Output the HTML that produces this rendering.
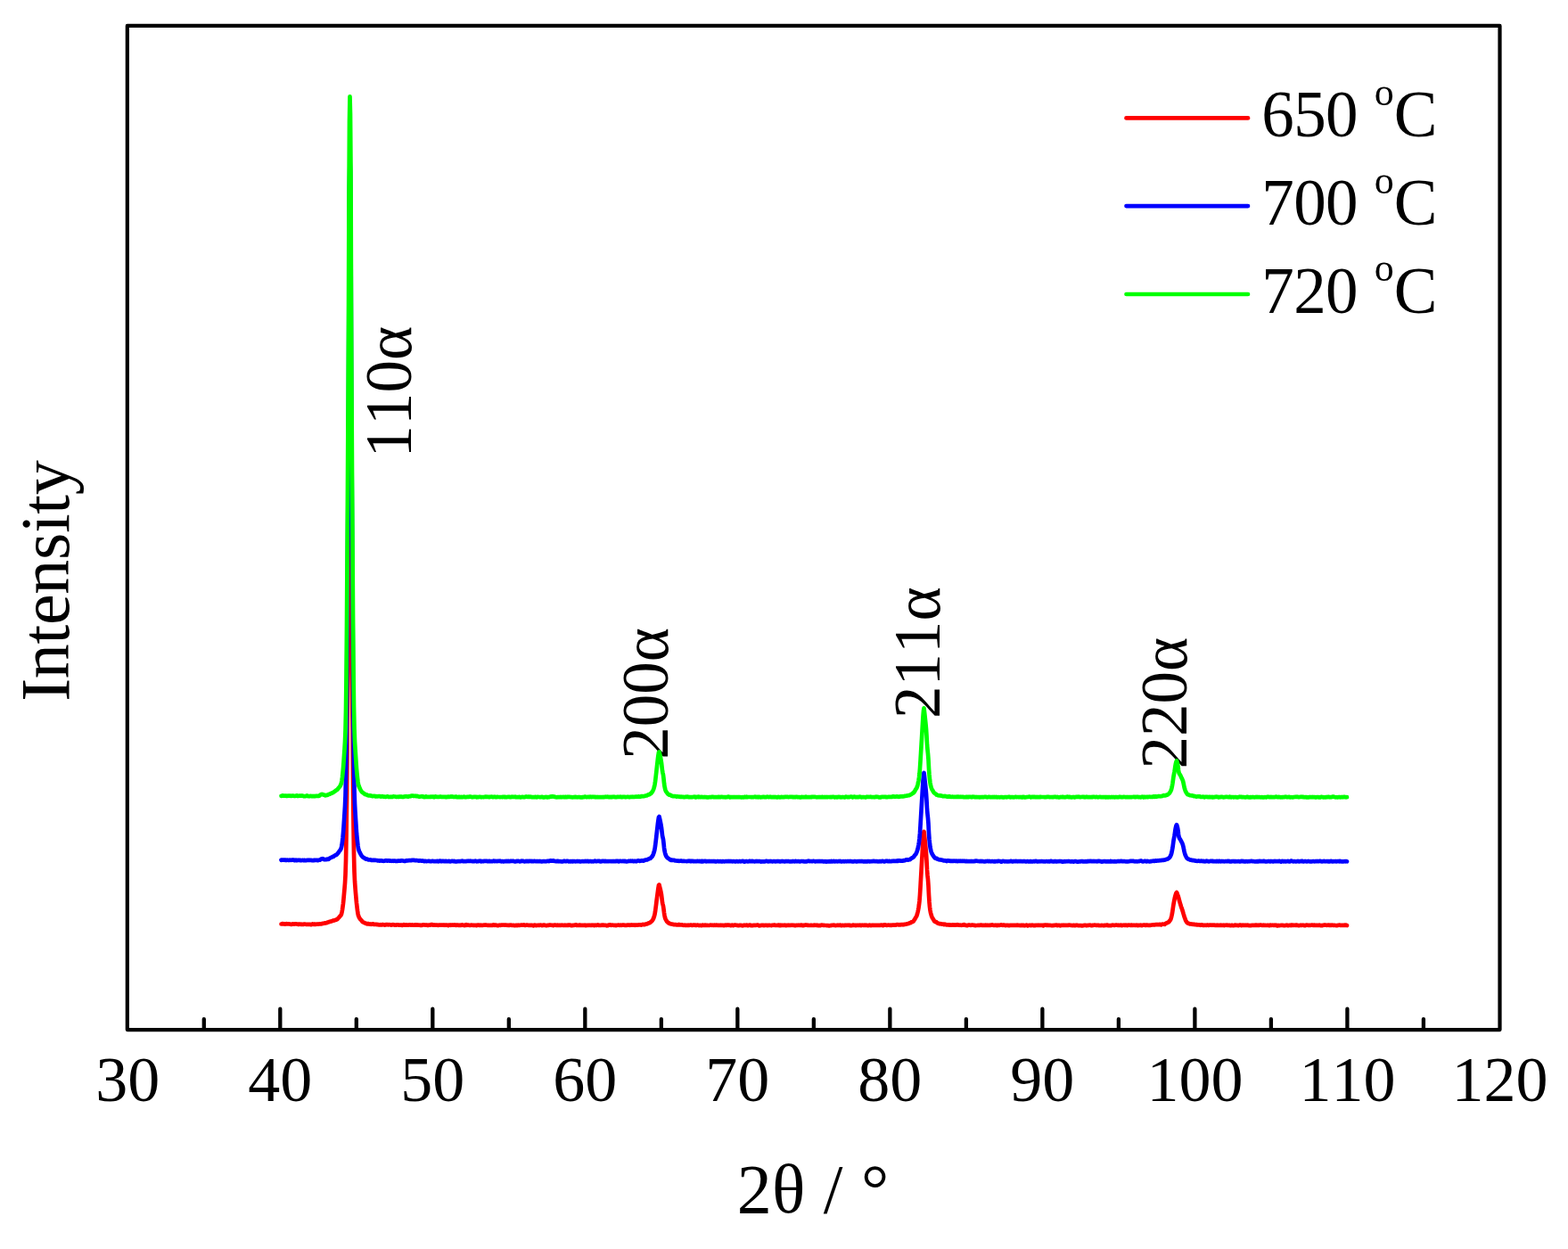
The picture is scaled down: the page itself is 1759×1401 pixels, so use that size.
<!DOCTYPE html>
<html lang="en"><head><meta charset="utf-8"><title>XRD patterns</title>
<style>html,body{margin:0;padding:0;background:#fff;}body{width:1759px;height:1401px;overflow:hidden;}svg{display:block;}text{font-family:"Liberation Serif","DejaVu Serif",serif;fill:#000;font-kerning:none;font-variant-ligatures:none;}</style></head><body>
<svg width="1759" height="1401" viewBox="0 0 1759 1401">
<rect x="0" y="0" width="1759" height="1401" fill="#ffffff"/>
<text transform="translate(461.0,513.5) rotate(-90)" font-size="73">110α</text>
<text transform="translate(749.2,851.7) rotate(-90)" font-size="73">200α</text>
<text transform="translate(1053.6,806.0) rotate(-90)" font-size="73">211α</text>
<text transform="translate(1331.4,862.4) rotate(-90)" font-size="73">220α</text>
<path d="M315.5,1036.5 L316.0,1036.5 L316.5,1036.2 L317.0,1036.4 L317.5,1036.2 L318.0,1036.5 L318.5,1036.3 L319.0,1036.6 L319.5,1036.4 L320.0,1036.6 L320.5,1036.4 L321.0,1036.4 L321.5,1036.2 L322.0,1036.5 L322.5,1036.5 L323.0,1036.5 L323.5,1036.3 L324.0,1036.4 L324.5,1036.5 L325.0,1036.5 L325.5,1036.6 L326.0,1036.6 L326.5,1036.8 L327.0,1036.8 L327.5,1036.6 L328.0,1036.6 L328.5,1036.4 L329.0,1036.5 L329.5,1036.5 L330.0,1036.6 L330.5,1036.5 L331.0,1036.4 L331.5,1036.4 L332.0,1036.4 L332.5,1036.5 L333.0,1036.5 L333.5,1036.5 L334.0,1036.7 L334.5,1036.9 L335.0,1036.9 L335.5,1036.6 L336.0,1036.5 L336.5,1036.7 L337.0,1036.8 L337.5,1036.8 L338.0,1036.6 L338.5,1036.8 L339.0,1036.9 L339.5,1037.0 L340.0,1036.8 L340.5,1036.8 L341.0,1036.6 L341.5,1036.5 L342.0,1036.6 L342.5,1036.7 L343.0,1036.8 L343.5,1036.9 L344.0,1036.9 L344.5,1036.9 L345.0,1036.8 L345.5,1036.9 L346.0,1036.8 L346.5,1036.9 L347.0,1036.8 L347.5,1036.8 L348.0,1036.9 L348.5,1037.0 L349.0,1037.2 L349.5,1037.0 L350.0,1036.7 L350.5,1036.4 L351.0,1036.6 L351.5,1036.8 L352.0,1036.9 L352.5,1036.6 L353.0,1036.5 L353.5,1036.6 L354.0,1036.8 L354.5,1036.8 L355.0,1036.7 L355.5,1036.7 L356.0,1036.6 L356.5,1036.6 L357.0,1036.6 L357.5,1036.6 L358.0,1036.4 L358.5,1036.4 L359.0,1036.4 L359.5,1036.5 L360.0,1036.5 L360.5,1036.4 L361.0,1036.2 L361.5,1036.0 L362.0,1035.9 L362.5,1035.9 L363.0,1035.8 L363.5,1035.7 L364.0,1035.5 L364.5,1035.5 L365.0,1035.3 L365.5,1035.4 L366.0,1035.2 L366.5,1035.2 L367.0,1034.8 L367.5,1034.6 L368.0,1034.5 L368.5,1034.4 L369.0,1034.2 L369.5,1034.0 L370.0,1033.8 L370.5,1033.7 L371.0,1033.6 L371.5,1033.5 L372.0,1033.3 L372.5,1033.0 L373.0,1032.9 L373.5,1032.6 L374.0,1032.6 L374.5,1032.5 L375.0,1032.5 L375.5,1032.1 L376.0,1032.0 L376.5,1032.0 L377.0,1031.7 L377.5,1031.5 L378.0,1031.2 L378.5,1031.0 L379.0,1030.4 L379.5,1029.9 L380.0,1029.4 L380.5,1028.9 L381.0,1028.2 L381.5,1027.7 L382.0,1027.2 L382.5,1026.5 L383.0,1025.4 L383.5,1023.3 L384.0,1020.6 L384.5,1017.1 L385.0,1013.3 L385.5,1008.3 L386.0,1002.5 L386.5,996.8 L387.0,990.6 L387.5,981.6 L388.0,965.7 L388.5,938.3 L389.0,896.2 L389.5,840.0 L390.0,778.2 L390.5,714.6 L391.0,640.4 L391.5,531.8 L392.0,462.4 L392.5,438.5 L393.0,450.0 L393.5,493.3 L394.0,604.0 L394.5,687.4 L395.0,753.8 L395.5,815.4 L396.0,875.7 L396.5,923.9 L397.0,957.2 L397.5,977.4 L398.0,988.5 L398.5,995.6 L399.0,1001.8 L399.5,1007.6 L400.0,1013.0 L400.5,1017.2 L401.0,1021.4 L401.5,1024.7 L402.0,1027.0 L402.5,1028.2 L403.0,1029.4 L403.5,1030.1 L404.0,1030.9 L404.5,1031.4 L405.0,1031.9 L405.5,1032.5 L406.0,1033.1 L406.5,1033.8 L407.0,1034.2 L407.5,1034.4 L408.0,1034.6 L408.5,1034.9 L409.0,1035.2 L409.5,1035.4 L410.0,1035.6 L410.5,1035.8 L411.0,1036.1 L411.5,1036.2 L412.0,1036.4 L412.5,1036.1 L413.0,1036.2 L413.5,1036.2 L414.0,1036.5 L414.5,1036.6 L415.0,1036.6 L415.5,1036.7 L416.0,1036.6 L416.5,1036.8 L417.0,1036.7 L417.5,1036.6 L418.0,1036.3 L418.5,1036.4 L419.0,1036.5 L419.5,1036.9 L420.0,1036.9 L420.5,1036.9 L421.0,1036.9 L421.5,1036.9 L422.0,1036.9 L422.5,1036.9 L423.0,1037.1 L423.5,1037.2 L424.0,1037.2 L424.5,1037.2 L425.0,1037.4 L425.5,1037.4 L426.0,1037.5 L426.5,1037.4 L427.0,1037.2 L427.5,1037.3 L428.0,1037.3 L428.5,1037.4 L429.0,1037.1 L429.5,1037.2 L430.0,1037.2 L430.5,1037.3 L431.0,1037.4 L431.5,1037.6 L432.0,1037.5 L432.5,1037.4 L433.0,1037.1 L433.5,1037.1 L434.0,1037.0 L434.5,1037.2 L435.0,1037.2 L435.5,1037.4 L436.0,1037.3 L436.5,1037.2 L437.0,1037.2 L437.5,1037.3 L438.0,1037.4 L438.5,1037.5 L439.0,1037.6 L439.5,1037.4 L440.0,1037.4 L440.5,1037.2 L441.0,1037.1 L441.5,1037.3 L442.0,1037.4 L442.5,1037.6 L443.0,1037.6 L443.5,1037.6 L444.0,1037.7 L444.5,1037.5 L445.0,1037.4 L445.5,1037.3 L446.0,1037.4 L446.5,1037.4 L447.0,1037.5 L447.5,1037.6 L448.0,1037.6 L448.5,1037.6 L449.0,1037.6 L449.5,1037.5 L450.0,1037.5 L450.5,1037.6 L451.0,1037.8 L451.5,1037.8 L452.0,1037.6 L452.5,1037.4 L453.0,1037.2 L453.5,1037.4 L454.0,1037.5 L454.5,1037.7 L455.0,1037.5 L455.5,1037.5 L456.0,1037.4 L456.5,1037.6 L457.0,1037.6 L457.5,1037.6 L458.0,1037.6 L458.5,1037.6 L459.0,1037.4 L459.5,1037.5 L460.0,1037.4 L460.5,1037.5 L461.0,1037.6 L461.5,1037.5 L462.0,1037.5 L462.5,1037.4 L463.0,1037.6 L463.5,1037.6 L464.0,1037.6 L464.5,1037.6 L465.0,1037.7 L465.5,1037.7 L466.0,1037.5 L466.5,1037.3 L467.0,1037.4 L467.5,1037.6 L468.0,1037.7 L468.5,1037.7 L469.0,1037.6 L469.5,1037.5 L470.0,1037.7 L470.5,1037.7 L471.0,1037.8 L471.5,1037.7 L472.0,1037.9 L472.5,1037.9 L473.0,1038.0 L473.5,1037.7 L474.0,1037.6 L474.5,1037.4 L475.0,1037.4 L475.5,1037.4 L476.0,1037.5 L476.5,1037.5 L477.0,1037.6 L477.5,1037.7 L478.0,1037.7 L478.5,1037.7 L479.0,1037.6 L479.5,1037.8 L480.0,1037.7 L480.5,1037.9 L481.0,1037.7 L481.5,1037.6 L482.0,1037.6 L482.5,1037.7 L483.0,1037.5 L483.5,1037.2 L484.0,1037.0 L484.5,1037.0 L485.0,1037.2 L485.5,1037.5 L486.0,1037.7 L486.5,1037.7 L487.0,1037.6 L487.5,1037.7 L488.0,1037.6 L488.5,1037.6 L489.0,1037.6 L489.5,1037.6 L490.0,1037.7 L490.5,1037.7 L491.0,1037.8 L491.5,1037.8 L492.0,1037.6 L492.5,1037.6 L493.0,1037.5 L493.5,1037.6 L494.0,1037.6 L494.5,1037.5 L495.0,1037.5 L495.5,1037.6 L496.0,1037.5 L496.5,1037.6 L497.0,1037.5 L497.5,1037.7 L498.0,1037.8 L498.5,1037.5 L499.0,1037.5 L499.5,1037.5 L500.0,1037.8 L500.5,1037.7 L501.0,1037.7 L501.5,1037.7 L502.0,1037.9 L502.5,1037.9 L503.0,1038.1 L503.5,1037.9 L504.0,1037.6 L504.5,1037.5 L505.0,1037.7 L505.5,1037.8 L506.0,1037.6 L506.5,1037.5 L507.0,1037.6 L507.5,1037.7 L508.0,1037.7 L508.5,1037.6 L509.0,1037.6 L509.5,1037.5 L510.0,1037.4 L510.5,1037.7 L511.0,1037.7 L511.5,1037.9 L512.0,1037.6 L512.5,1037.7 L513.0,1037.5 L513.5,1037.7 L514.0,1037.6 L514.5,1038.0 L515.0,1037.8 L515.5,1037.8 L516.0,1037.6 L516.5,1037.9 L517.0,1037.8 L517.5,1037.8 L518.0,1037.5 L518.5,1037.4 L519.0,1037.5 L519.5,1037.8 L520.0,1037.8 L520.5,1038.0 L521.0,1038.0 L521.5,1038.1 L522.0,1037.6 L522.5,1037.3 L523.0,1037.2 L523.5,1037.6 L524.0,1037.8 L524.5,1037.7 L525.0,1037.5 L525.5,1037.7 L526.0,1037.8 L526.5,1037.8 L527.0,1037.8 L527.5,1037.8 L528.0,1037.9 L528.5,1037.7 L529.0,1037.7 L529.5,1037.7 L530.0,1037.8 L530.5,1037.9 L531.0,1038.0 L531.5,1037.9 L532.0,1037.9 L532.5,1037.8 L533.0,1037.9 L533.5,1037.9 L534.0,1037.9 L534.5,1038.1 L535.0,1038.0 L535.5,1037.8 L536.0,1037.5 L536.5,1037.6 L537.0,1037.7 L537.5,1037.9 L538.0,1037.7 L538.5,1037.8 L539.0,1037.7 L539.5,1037.9 L540.0,1037.8 L540.5,1037.9 L541.0,1037.9 L541.5,1037.8 L542.0,1037.8 L542.5,1037.7 L543.0,1037.7 L543.5,1037.7 L544.0,1037.7 L544.5,1037.7 L545.0,1037.6 L545.5,1037.6 L546.0,1037.7 L546.5,1037.8 L547.0,1037.9 L547.5,1037.8 L548.0,1037.8 L548.5,1038.0 L549.0,1038.0 L549.5,1038.0 L550.0,1037.9 L550.5,1037.8 L551.0,1037.8 L551.5,1037.9 L552.0,1037.9 L552.5,1037.9 L553.0,1037.5 L553.5,1037.4 L554.0,1037.5 L554.5,1037.6 L555.0,1037.8 L555.5,1037.6 L556.0,1037.6 L556.5,1037.7 L557.0,1037.9 L557.5,1038.0 L558.0,1038.1 L558.5,1038.1 L559.0,1038.1 L559.5,1037.9 L560.0,1037.8 L560.5,1037.7 L561.0,1037.8 L561.5,1037.8 L562.0,1037.6 L562.5,1037.6 L563.0,1037.6 L563.5,1037.5 L564.0,1037.5 L564.5,1037.5 L565.0,1037.5 L565.5,1037.6 L566.0,1037.5 L566.5,1037.7 L567.0,1037.7 L567.5,1037.7 L568.0,1037.7 L568.5,1037.8 L569.0,1037.7 L569.5,1037.8 L570.0,1037.9 L570.5,1038.0 L571.0,1038.0 L571.5,1037.7 L572.0,1037.8 L572.5,1037.7 L573.0,1037.7 L573.5,1037.7 L574.0,1037.8 L574.5,1038.0 L575.0,1038.0 L575.5,1038.0 L576.0,1037.9 L576.5,1037.9 L577.0,1038.1 L577.5,1038.1 L578.0,1038.1 L578.5,1037.9 L579.0,1037.9 L579.5,1037.9 L580.0,1038.1 L580.5,1038.0 L581.0,1037.8 L581.5,1037.7 L582.0,1037.8 L582.5,1037.8 L583.0,1037.8 L583.5,1037.8 L584.0,1037.7 L584.5,1037.6 L585.0,1037.6 L585.5,1037.7 L586.0,1037.5 L586.5,1037.7 L587.0,1037.5 L587.5,1037.5 L588.0,1037.4 L588.5,1037.7 L589.0,1038.0 L589.5,1037.9 L590.0,1037.8 L590.5,1037.5 L591.0,1037.7 L591.5,1037.6 L592.0,1037.7 L592.5,1037.8 L593.0,1037.9 L593.5,1038.0 L594.0,1037.8 L594.5,1037.9 L595.0,1037.8 L595.5,1037.9 L596.0,1038.0 L596.5,1038.0 L597.0,1037.8 L597.5,1038.1 L598.0,1038.1 L598.5,1038.3 L599.0,1037.8 L599.5,1037.7 L600.0,1037.6 L600.5,1037.8 L601.0,1037.9 L601.5,1038.1 L602.0,1038.0 L602.5,1038.0 L603.0,1037.9 L603.5,1037.9 L604.0,1037.8 L604.5,1037.9 L605.0,1038.0 L605.5,1037.9 L606.0,1037.7 L606.5,1037.6 L607.0,1037.8 L607.5,1037.9 L608.0,1038.1 L608.5,1037.9 L609.0,1037.9 L609.5,1037.5 L610.0,1037.5 L610.5,1037.5 L611.0,1037.8 L611.5,1038.0 L612.0,1038.0 L612.5,1038.1 L613.0,1038.0 L613.5,1038.1 L614.0,1037.9 L614.5,1038.0 L615.0,1037.8 L615.5,1037.9 L616.0,1037.7 L616.5,1037.7 L617.0,1037.6 L617.5,1037.6 L618.0,1037.7 L618.5,1037.8 L619.0,1037.7 L619.5,1037.8 L620.0,1037.9 L620.5,1038.1 L621.0,1038.0 L621.5,1037.9 L622.0,1037.7 L622.5,1037.5 L623.0,1037.7 L623.5,1037.8 L624.0,1037.9 L624.5,1037.8 L625.0,1037.9 L625.5,1037.6 L626.0,1037.8 L626.5,1037.8 L627.0,1038.0 L627.5,1037.9 L628.0,1038.0 L628.5,1037.9 L629.0,1038.0 L629.5,1037.8 L630.0,1037.7 L630.5,1037.7 L631.0,1037.8 L631.5,1037.9 L632.0,1037.8 L632.5,1037.8 L633.0,1037.8 L633.5,1037.9 L634.0,1037.7 L634.5,1037.8 L635.0,1037.8 L635.5,1038.0 L636.0,1037.9 L636.5,1037.9 L637.0,1037.7 L637.5,1037.9 L638.0,1037.6 L638.5,1037.6 L639.0,1037.5 L639.5,1037.7 L640.0,1037.9 L640.5,1038.0 L641.0,1038.2 L641.5,1038.2 L642.0,1038.1 L642.5,1037.9 L643.0,1037.9 L643.5,1037.9 L644.0,1037.9 L644.5,1037.7 L645.0,1037.7 L645.5,1037.4 L646.0,1037.5 L646.5,1037.4 L647.0,1037.8 L647.5,1037.8 L648.0,1037.8 L648.5,1037.9 L649.0,1037.8 L649.5,1037.9 L650.0,1037.6 L650.5,1037.7 L651.0,1037.7 L651.5,1038.0 L652.0,1037.9 L652.5,1037.9 L653.0,1037.8 L653.5,1037.9 L654.0,1037.9 L654.5,1037.9 L655.0,1037.9 L655.5,1037.8 L656.0,1037.7 L656.5,1037.9 L657.0,1038.1 L657.5,1038.1 L658.0,1037.9 L658.5,1037.8 L659.0,1038.0 L659.5,1038.0 L660.0,1037.8 L660.5,1037.8 L661.0,1037.7 L661.5,1037.8 L662.0,1037.8 L662.5,1037.8 L663.0,1037.9 L663.5,1038.0 L664.0,1037.9 L664.5,1037.8 L665.0,1037.6 L665.5,1037.8 L666.0,1037.9 L666.5,1038.1 L667.0,1037.9 L667.5,1037.9 L668.0,1037.7 L668.5,1037.8 L669.0,1037.8 L669.5,1037.8 L670.0,1037.6 L670.5,1037.4 L671.0,1037.6 L671.5,1037.6 L672.0,1037.9 L672.5,1038.0 L673.0,1038.0 L673.5,1038.0 L674.0,1037.9 L674.5,1037.9 L675.0,1037.7 L675.5,1037.7 L676.0,1037.7 L676.5,1037.9 L677.0,1037.7 L677.5,1037.7 L678.0,1037.8 L678.5,1037.9 L679.0,1037.8 L679.5,1037.9 L680.0,1038.0 L680.5,1038.1 L681.0,1038.3 L681.5,1038.2 L682.0,1038.1 L682.5,1037.6 L683.0,1037.7 L683.5,1037.7 L684.0,1037.6 L684.5,1037.4 L685.0,1037.5 L685.5,1037.8 L686.0,1037.8 L686.5,1037.7 L687.0,1037.6 L687.5,1037.7 L688.0,1037.8 L688.5,1037.8 L689.0,1037.9 L689.5,1037.8 L690.0,1037.9 L690.5,1037.9 L691.0,1038.1 L691.5,1037.9 L692.0,1037.9 L692.5,1037.8 L693.0,1037.7 L693.5,1037.6 L694.0,1037.6 L694.5,1037.7 L695.0,1037.9 L695.5,1037.8 L696.0,1037.7 L696.5,1037.7 L697.0,1037.9 L697.5,1037.8 L698.0,1037.7 L698.5,1037.7 L699.0,1037.6 L699.5,1037.6 L700.0,1037.5 L700.5,1037.8 L701.0,1037.9 L701.5,1037.9 L702.0,1038.0 L702.5,1037.8 L703.0,1037.8 L703.5,1037.6 L704.0,1037.6 L704.5,1037.5 L705.0,1037.7 L705.5,1037.5 L706.0,1037.6 L706.5,1037.6 L707.0,1037.8 L707.5,1037.7 L708.0,1037.6 L708.5,1037.4 L709.0,1037.6 L709.5,1037.7 L710.0,1037.5 L710.5,1037.6 L711.0,1037.5 L711.5,1037.7 L712.0,1037.8 L712.5,1037.6 L713.0,1037.7 L713.5,1037.5 L714.0,1037.7 L714.5,1037.5 L715.0,1037.6 L715.5,1037.6 L716.0,1037.5 L716.5,1037.4 L717.0,1037.3 L717.5,1037.4 L718.0,1037.3 L718.5,1037.4 L719.0,1037.4 L719.5,1037.6 L720.0,1037.3 L720.5,1037.2 L721.0,1037.0 L721.5,1036.9 L722.0,1037.2 L722.5,1037.1 L723.0,1037.2 L723.5,1036.9 L724.0,1036.7 L724.5,1036.5 L725.0,1036.5 L725.5,1036.5 L726.0,1036.3 L726.5,1036.1 L727.0,1035.7 L727.5,1035.5 L728.0,1035.4 L728.5,1035.3 L729.0,1035.1 L729.5,1034.6 L730.0,1034.2 L730.5,1033.9 L731.0,1033.4 L731.5,1032.9 L732.0,1032.1 L732.5,1031.4 L733.0,1030.4 L733.5,1029.1 L734.0,1027.5 L734.5,1025.6 L735.0,1022.7 L735.5,1019.0 L736.0,1015.1 L736.5,1010.9 L737.0,1007.0 L737.5,1003.3 L738.0,999.5 L738.5,995.9 L739.0,993.0 L739.5,992.5 L740.0,994.5 L740.5,996.6 L741.0,998.6 L741.5,1000.9 L742.0,1003.7 L742.5,1007.8 L743.0,1012.0 L743.5,1014.3 L744.0,1016.3 L744.5,1019.6 L745.0,1023.8 L745.5,1026.9 L746.0,1029.2 L746.5,1030.8 L747.0,1031.8 L747.5,1032.6 L748.0,1033.4 L748.5,1034.0 L749.0,1034.5 L749.5,1034.9 L750.0,1035.3 L750.5,1035.4 L751.0,1035.8 L751.5,1036.0 L752.0,1036.3 L752.5,1036.4 L753.0,1036.5 L753.5,1036.5 L754.0,1036.6 L754.5,1036.7 L755.0,1036.9 L755.5,1037.0 L756.0,1037.1 L756.5,1037.1 L757.0,1037.0 L757.5,1037.0 L758.0,1037.0 L758.5,1037.3 L759.0,1037.4 L759.5,1037.4 L760.0,1037.3 L760.5,1037.3 L761.0,1037.1 L761.5,1037.2 L762.0,1037.1 L762.5,1037.4 L763.0,1037.3 L763.5,1037.4 L764.0,1037.4 L764.5,1037.3 L765.0,1037.5 L765.5,1037.4 L766.0,1037.7 L766.5,1037.8 L767.0,1037.8 L767.5,1037.7 L768.0,1037.8 L768.5,1037.7 L769.0,1038.0 L769.5,1037.8 L770.0,1037.9 L770.5,1037.9 L771.0,1037.8 L771.5,1037.8 L772.0,1037.7 L772.5,1037.9 L773.0,1037.9 L773.5,1037.8 L774.0,1037.7 L774.5,1037.6 L775.0,1037.7 L775.5,1037.7 L776.0,1037.9 L776.5,1037.9 L777.0,1037.9 L777.5,1037.7 L778.0,1037.7 L778.5,1037.7 L779.0,1037.7 L779.5,1037.7 L780.0,1037.9 L780.5,1038.0 L781.0,1038.0 L781.5,1037.8 L782.0,1037.7 L782.5,1037.6 L783.0,1037.7 L783.5,1037.8 L784.0,1038.1 L784.5,1038.0 L785.0,1038.0 L785.5,1037.9 L786.0,1038.0 L786.5,1038.1 L787.0,1038.1 L787.5,1037.9 L788.0,1037.7 L788.5,1037.7 L789.0,1038.0 L789.5,1037.9 L790.0,1037.8 L790.5,1037.7 L791.0,1037.9 L791.5,1038.0 L792.0,1037.9 L792.5,1037.8 L793.0,1037.8 L793.5,1037.9 L794.0,1038.0 L794.5,1038.0 L795.0,1038.0 L795.5,1038.0 L796.0,1037.9 L796.5,1037.8 L797.0,1037.6 L797.5,1037.6 L798.0,1037.7 L798.5,1037.8 L799.0,1037.8 L799.5,1037.7 L800.0,1037.8 L800.5,1037.8 L801.0,1037.8 L801.5,1037.6 L802.0,1037.7 L802.5,1037.8 L803.0,1037.8 L803.5,1037.6 L804.0,1037.6 L804.5,1037.8 L805.0,1037.9 L805.5,1037.8 L806.0,1037.9 L806.5,1037.8 L807.0,1037.9 L807.5,1037.8 L808.0,1037.9 L808.5,1038.0 L809.0,1037.9 L809.5,1037.9 L810.0,1037.8 L810.5,1037.8 L811.0,1037.9 L811.5,1038.0 L812.0,1038.1 L812.5,1038.1 L813.0,1037.8 L813.5,1037.7 L814.0,1037.7 L814.5,1037.9 L815.0,1037.9 L815.5,1037.6 L816.0,1037.7 L816.5,1037.7 L817.0,1037.8 L817.5,1037.6 L818.0,1037.6 L818.5,1037.8 L819.0,1037.9 L819.5,1038.1 L820.0,1038.1 L820.5,1038.0 L821.0,1037.7 L821.5,1037.7 L822.0,1038.0 L822.5,1038.1 L823.0,1038.1 L823.5,1037.8 L824.0,1037.6 L824.5,1037.5 L825.0,1037.6 L825.5,1037.7 L826.0,1037.8 L826.5,1037.8 L827.0,1037.9 L827.5,1038.0 L828.0,1038.1 L828.5,1038.2 L829.0,1038.0 L829.5,1038.0 L830.0,1037.8 L830.5,1037.8 L831.0,1038.0 L831.5,1037.9 L832.0,1038.1 L832.5,1038.0 L833.0,1038.3 L833.5,1038.1 L834.0,1038.1 L834.5,1037.8 L835.0,1037.7 L835.5,1037.8 L836.0,1037.8 L836.5,1038.0 L837.0,1037.8 L837.5,1037.6 L838.0,1037.7 L838.5,1037.9 L839.0,1038.2 L839.5,1038.1 L840.0,1037.9 L840.5,1037.7 L841.0,1037.6 L841.5,1037.6 L842.0,1037.7 L842.5,1038.1 L843.0,1038.1 L843.5,1038.2 L844.0,1038.1 L844.5,1038.1 L845.0,1037.9 L845.5,1037.9 L846.0,1037.9 L846.5,1037.9 L847.0,1037.8 L847.5,1037.8 L848.0,1037.9 L848.5,1037.8 L849.0,1037.7 L849.5,1037.7 L850.0,1037.6 L850.5,1037.7 L851.0,1037.9 L851.5,1038.3 L852.0,1038.4 L852.5,1038.2 L853.0,1038.1 L853.5,1038.0 L854.0,1037.9 L854.5,1037.9 L855.0,1037.8 L855.5,1038.0 L856.0,1038.0 L856.5,1037.9 L857.0,1038.1 L857.5,1038.0 L858.0,1038.0 L858.5,1037.8 L859.0,1037.9 L859.5,1037.8 L860.0,1037.9 L860.5,1037.9 L861.0,1038.1 L861.5,1038.0 L862.0,1037.9 L862.5,1037.9 L863.0,1037.9 L863.5,1037.9 L864.0,1038.0 L864.5,1038.0 L865.0,1038.0 L865.5,1038.1 L866.0,1037.9 L866.5,1037.8 L867.0,1037.7 L867.5,1037.8 L868.0,1037.7 L868.5,1037.7 L869.0,1037.6 L869.5,1037.9 L870.0,1037.9 L870.5,1038.0 L871.0,1038.0 L871.5,1038.0 L872.0,1037.9 L872.5,1037.9 L873.0,1037.7 L873.5,1037.7 L874.0,1037.7 L874.5,1038.1 L875.0,1038.0 L875.5,1038.1 L876.0,1037.7 L876.5,1037.8 L877.0,1037.8 L877.5,1038.0 L878.0,1037.9 L878.5,1037.8 L879.0,1037.9 L879.5,1037.9 L880.0,1037.8 L880.5,1037.7 L881.0,1037.9 L881.5,1038.1 L882.0,1038.1 L882.5,1037.9 L883.0,1037.9 L883.5,1037.9 L884.0,1037.9 L884.5,1038.0 L885.0,1037.9 L885.5,1037.9 L886.0,1037.8 L886.5,1037.9 L887.0,1037.8 L887.5,1037.8 L888.0,1037.7 L888.5,1037.8 L889.0,1037.7 L889.5,1037.8 L890.0,1037.8 L890.5,1037.8 L891.0,1037.9 L891.5,1038.1 L892.0,1038.1 L892.5,1038.1 L893.0,1037.9 L893.5,1037.9 L894.0,1038.0 L894.5,1038.0 L895.0,1037.9 L895.5,1037.8 L896.0,1037.7 L896.5,1037.8 L897.0,1037.9 L897.5,1037.8 L898.0,1037.8 L898.5,1037.6 L899.0,1037.5 L899.5,1037.8 L900.0,1037.9 L900.5,1038.2 L901.0,1037.9 L901.5,1038.1 L902.0,1037.8 L902.5,1037.9 L903.0,1037.7 L903.5,1037.7 L904.0,1037.6 L904.5,1037.7 L905.0,1037.7 L905.5,1037.8 L906.0,1037.7 L906.5,1037.9 L907.0,1038.0 L907.5,1038.0 L908.0,1038.0 L908.5,1038.0 L909.0,1038.0 L909.5,1037.8 L910.0,1037.8 L910.5,1037.9 L911.0,1038.0 L911.5,1038.0 L912.0,1038.0 L912.5,1037.9 L913.0,1037.9 L913.5,1037.7 L914.0,1037.8 L914.5,1037.7 L915.0,1037.8 L915.5,1037.8 L916.0,1037.9 L916.5,1038.0 L917.0,1037.9 L917.5,1038.0 L918.0,1038.2 L918.5,1038.2 L919.0,1038.1 L919.5,1038.1 L920.0,1038.2 L920.5,1038.1 L921.0,1037.9 L921.5,1037.7 L922.0,1037.7 L922.5,1037.7 L923.0,1037.8 L923.5,1037.8 L924.0,1037.9 L924.5,1037.9 L925.0,1038.0 L925.5,1038.0 L926.0,1038.0 L926.5,1038.0 L927.0,1038.0 L927.5,1038.1 L928.0,1038.0 L928.5,1038.0 L929.0,1038.0 L929.5,1038.3 L930.0,1038.3 L930.5,1038.4 L931.0,1038.2 L931.5,1038.1 L932.0,1038.1 L932.5,1038.0 L933.0,1037.9 L933.5,1037.8 L934.0,1037.8 L934.5,1037.7 L935.0,1037.8 L935.5,1037.7 L936.0,1037.9 L936.5,1037.8 L937.0,1038.1 L937.5,1038.1 L938.0,1038.0 L938.5,1038.0 L939.0,1037.9 L939.5,1038.0 L940.0,1037.7 L940.5,1037.8 L941.0,1038.0 L941.5,1038.0 L942.0,1037.9 L942.5,1037.6 L943.0,1037.8 L943.5,1038.1 L944.0,1038.2 L944.5,1038.1 L945.0,1037.9 L945.5,1037.9 L946.0,1038.0 L946.5,1038.0 L947.0,1038.1 L947.5,1037.9 L948.0,1038.0 L948.5,1037.9 L949.0,1037.9 L949.5,1037.9 L950.0,1037.8 L950.5,1037.8 L951.0,1037.7 L951.5,1037.8 L952.0,1037.8 L952.5,1037.7 L953.0,1037.8 L953.5,1038.0 L954.0,1038.2 L954.5,1038.2 L955.0,1038.2 L955.5,1038.1 L956.0,1038.0 L956.5,1037.7 L957.0,1037.6 L957.5,1037.7 L958.0,1037.9 L958.5,1037.8 L959.0,1037.8 L959.5,1037.9 L960.0,1038.1 L960.5,1038.0 L961.0,1037.9 L961.5,1037.8 L962.0,1037.8 L962.5,1037.9 L963.0,1037.9 L963.5,1037.9 L964.0,1038.0 L964.5,1037.7 L965.0,1037.8 L965.5,1037.9 L966.0,1038.1 L966.5,1037.9 L967.0,1037.8 L967.5,1037.7 L968.0,1037.8 L968.5,1037.8 L969.0,1037.8 L969.5,1037.9 L970.0,1037.7 L970.5,1037.9 L971.0,1037.9 L971.5,1038.0 L972.0,1037.9 L972.5,1037.9 L973.0,1038.0 L973.5,1038.1 L974.0,1038.1 L974.5,1037.9 L975.0,1037.9 L975.5,1037.7 L976.0,1037.9 L976.5,1037.9 L977.0,1038.1 L977.5,1038.0 L978.0,1037.9 L978.5,1037.9 L979.0,1038.0 L979.5,1037.9 L980.0,1037.8 L980.5,1037.8 L981.0,1037.9 L981.5,1037.9 L982.0,1037.9 L982.5,1037.8 L983.0,1037.9 L983.5,1037.9 L984.0,1037.9 L984.5,1037.8 L985.0,1037.8 L985.5,1037.8 L986.0,1037.8 L986.5,1038.0 L987.0,1037.9 L987.5,1037.9 L988.0,1037.5 L988.5,1037.5 L989.0,1037.6 L989.5,1037.8 L990.0,1038.0 L990.5,1038.1 L991.0,1037.7 L991.5,1037.6 L992.0,1037.4 L992.5,1037.6 L993.0,1037.4 L993.5,1037.6 L994.0,1037.6 L994.5,1037.8 L995.0,1037.8 L995.5,1037.8 L996.0,1037.7 L996.5,1037.7 L997.0,1037.7 L997.5,1037.8 L998.0,1037.7 L998.5,1037.8 L999.0,1037.7 L999.5,1037.9 L1000.0,1037.9 L1000.5,1037.8 L1001.0,1037.7 L1001.5,1037.5 L1002.0,1037.7 L1002.5,1037.5 L1003.0,1037.7 L1003.5,1037.5 L1004.0,1037.6 L1004.5,1037.5 L1005.0,1037.6 L1005.5,1037.4 L1006.0,1037.2 L1006.5,1037.2 L1007.0,1037.2 L1007.5,1037.3 L1008.0,1037.2 L1008.5,1037.4 L1009.0,1037.4 L1009.5,1037.5 L1010.0,1037.2 L1010.5,1037.3 L1011.0,1037.2 L1011.5,1037.0 L1012.0,1037.1 L1012.5,1037.0 L1013.0,1037.3 L1013.5,1037.0 L1014.0,1037.1 L1014.5,1036.9 L1015.0,1036.8 L1015.5,1036.8 L1016.0,1036.7 L1016.5,1036.6 L1017.0,1036.5 L1017.5,1036.4 L1018.0,1036.2 L1018.5,1036.1 L1019.0,1036.0 L1019.5,1035.9 L1020.0,1035.5 L1020.5,1035.2 L1021.0,1035.1 L1021.5,1035.1 L1022.0,1034.7 L1022.5,1034.3 L1023.0,1034.0 L1023.5,1034.1 L1024.0,1033.9 L1024.5,1033.5 L1025.0,1032.9 L1025.5,1032.1 L1026.0,1031.5 L1026.5,1030.5 L1027.0,1029.7 L1027.5,1028.7 L1028.0,1028.0 L1028.5,1026.8 L1029.0,1025.3 L1029.5,1023.3 L1030.0,1020.9 L1030.5,1018.2 L1031.0,1014.7 L1031.5,1010.4 L1032.0,1003.9 L1032.5,995.5 L1033.0,986.5 L1033.5,977.6 L1034.0,968.7 L1034.5,960.1 L1035.0,951.1 L1035.5,942.8 L1036.0,936.2 L1036.5,932.8 L1037.0,936.8 L1037.5,941.7 L1038.0,946.6 L1038.5,951.8 L1039.0,957.4 L1039.5,965.3 L1040.0,975.9 L1040.5,981.9 L1041.0,986.6 L1041.5,993.6 L1042.0,1003.8 L1042.5,1011.7 L1043.0,1017.2 L1043.5,1021.1 L1044.0,1023.8 L1044.5,1025.6 L1045.0,1027.3 L1045.5,1028.6 L1046.0,1029.7 L1046.5,1030.4 L1047.0,1031.2 L1047.5,1032.0 L1048.0,1033.1 L1048.5,1033.5 L1049.0,1033.9 L1049.5,1033.8 L1050.0,1034.1 L1050.5,1034.3 L1051.0,1034.8 L1051.5,1035.3 L1052.0,1035.5 L1052.5,1035.7 L1053.0,1035.9 L1053.5,1036.0 L1054.0,1036.3 L1054.5,1036.2 L1055.0,1036.3 L1055.5,1036.2 L1056.0,1036.5 L1056.5,1036.5 L1057.0,1036.7 L1057.5,1036.5 L1058.0,1036.7 L1058.5,1036.9 L1059.0,1037.1 L1059.5,1036.9 L1060.0,1036.7 L1060.5,1036.8 L1061.0,1037.2 L1061.5,1037.3 L1062.0,1037.3 L1062.5,1037.4 L1063.0,1037.4 L1063.5,1037.3 L1064.0,1037.5 L1064.5,1037.4 L1065.0,1037.6 L1065.5,1037.4 L1066.0,1037.5 L1066.5,1037.6 L1067.0,1037.6 L1067.5,1037.7 L1068.0,1037.5 L1068.5,1037.4 L1069.0,1037.4 L1069.5,1037.5 L1070.0,1037.6 L1070.5,1037.7 L1071.0,1037.6 L1071.5,1037.7 L1072.0,1037.6 L1072.5,1037.6 L1073.0,1037.4 L1073.5,1037.4 L1074.0,1037.2 L1074.5,1037.5 L1075.0,1037.6 L1075.5,1037.7 L1076.0,1037.7 L1076.5,1037.7 L1077.0,1037.8 L1077.5,1037.7 L1078.0,1037.7 L1078.5,1037.8 L1079.0,1037.8 L1079.5,1037.7 L1080.0,1037.7 L1080.5,1037.6 L1081.0,1037.4 L1081.5,1037.1 L1082.0,1037.4 L1082.5,1037.6 L1083.0,1037.8 L1083.5,1037.8 L1084.0,1038.0 L1084.5,1038.1 L1085.0,1038.2 L1085.5,1037.9 L1086.0,1037.8 L1086.5,1037.6 L1087.0,1037.7 L1087.5,1037.6 L1088.0,1037.7 L1088.5,1037.8 L1089.0,1037.9 L1089.5,1037.8 L1090.0,1037.6 L1090.5,1037.5 L1091.0,1037.5 L1091.5,1037.7 L1092.0,1037.8 L1092.5,1037.9 L1093.0,1037.8 L1093.5,1037.9 L1094.0,1038.1 L1094.5,1038.1 L1095.0,1038.0 L1095.5,1038.0 L1096.0,1038.0 L1096.5,1038.0 L1097.0,1037.9 L1097.5,1037.9 L1098.0,1037.8 L1098.5,1037.8 L1099.0,1037.8 L1099.5,1037.8 L1100.0,1037.5 L1100.5,1037.5 L1101.0,1037.7 L1101.5,1038.0 L1102.0,1037.9 L1102.5,1037.8 L1103.0,1037.8 L1103.5,1037.8 L1104.0,1037.8 L1104.5,1037.8 L1105.0,1038.0 L1105.5,1037.7 L1106.0,1037.7 L1106.5,1037.8 L1107.0,1038.0 L1107.5,1038.0 L1108.0,1037.9 L1108.5,1037.9 L1109.0,1038.0 L1109.5,1038.0 L1110.0,1037.9 L1110.5,1037.8 L1111.0,1037.6 L1111.5,1037.8 L1112.0,1037.7 L1112.5,1037.6 L1113.0,1037.4 L1113.5,1037.5 L1114.0,1037.8 L1114.5,1037.9 L1115.0,1038.0 L1115.5,1038.0 L1116.0,1037.9 L1116.5,1037.9 L1117.0,1037.7 L1117.5,1037.8 L1118.0,1038.0 L1118.5,1038.1 L1119.0,1038.0 L1119.5,1037.8 L1120.0,1037.7 L1120.5,1037.8 L1121.0,1037.8 L1121.5,1037.8 L1122.0,1037.7 L1122.5,1037.6 L1123.0,1037.4 L1123.5,1037.4 L1124.0,1037.6 L1124.5,1037.8 L1125.0,1037.9 L1125.5,1037.7 L1126.0,1037.7 L1126.5,1037.6 L1127.0,1037.7 L1127.5,1038.0 L1128.0,1038.1 L1128.5,1037.9 L1129.0,1037.9 L1129.5,1037.8 L1130.0,1038.0 L1130.5,1037.8 L1131.0,1037.9 L1131.5,1038.2 L1132.0,1038.2 L1132.5,1038.1 L1133.0,1037.8 L1133.5,1037.9 L1134.0,1037.9 L1134.5,1037.8 L1135.0,1037.8 L1135.5,1038.0 L1136.0,1038.0 L1136.5,1037.8 L1137.0,1037.9 L1137.5,1037.8 L1138.0,1038.0 L1138.5,1037.9 L1139.0,1037.9 L1139.5,1037.9 L1140.0,1037.8 L1140.5,1037.8 L1141.0,1037.6 L1141.5,1037.7 L1142.0,1037.8 L1142.5,1038.0 L1143.0,1037.9 L1143.5,1038.0 L1144.0,1038.0 L1144.5,1038.1 L1145.0,1037.9 L1145.5,1037.8 L1146.0,1037.9 L1146.5,1038.1 L1147.0,1038.0 L1147.5,1037.8 L1148.0,1037.8 L1148.5,1038.0 L1149.0,1038.3 L1149.5,1038.2 L1150.0,1038.1 L1150.5,1037.8 L1151.0,1037.8 L1151.5,1037.6 L1152.0,1037.9 L1152.5,1037.9 L1153.0,1038.3 L1153.5,1038.1 L1154.0,1038.0 L1154.5,1037.9 L1155.0,1037.8 L1155.5,1038.0 L1156.0,1037.9 L1156.5,1038.1 L1157.0,1038.0 L1157.5,1037.8 L1158.0,1037.6 L1158.5,1037.8 L1159.0,1038.0 L1159.5,1038.1 L1160.0,1038.2 L1160.5,1037.9 L1161.0,1038.2 L1161.5,1037.9 L1162.0,1038.0 L1162.5,1037.8 L1163.0,1037.8 L1163.5,1037.9 L1164.0,1037.8 L1164.5,1038.0 L1165.0,1037.7 L1165.5,1037.8 L1166.0,1037.8 L1166.5,1037.9 L1167.0,1037.9 L1167.5,1037.8 L1168.0,1038.0 L1168.5,1038.0 L1169.0,1037.8 L1169.5,1037.8 L1170.0,1037.9 L1170.5,1038.3 L1171.0,1038.1 L1171.5,1037.8 L1172.0,1037.6 L1172.5,1037.5 L1173.0,1037.7 L1173.5,1037.7 L1174.0,1037.9 L1174.5,1037.7 L1175.0,1037.8 L1175.5,1037.7 L1176.0,1037.9 L1176.5,1037.8 L1177.0,1037.8 L1177.5,1037.9 L1178.0,1037.9 L1178.5,1038.0 L1179.0,1038.0 L1179.5,1038.1 L1180.0,1038.1 L1180.5,1038.1 L1181.0,1038.2 L1181.5,1038.1 L1182.0,1038.0 L1182.5,1037.9 L1183.0,1037.9 L1183.5,1037.9 L1184.0,1037.8 L1184.5,1037.6 L1185.0,1037.6 L1185.5,1037.9 L1186.0,1038.1 L1186.5,1038.0 L1187.0,1037.8 L1187.5,1037.8 L1188.0,1037.8 L1188.5,1037.9 L1189.0,1038.2 L1189.5,1038.3 L1190.0,1038.1 L1190.5,1037.8 L1191.0,1037.8 L1191.5,1037.9 L1192.0,1038.0 L1192.5,1037.8 L1193.0,1037.7 L1193.5,1037.8 L1194.0,1037.9 L1194.5,1037.9 L1195.0,1037.8 L1195.5,1037.9 L1196.0,1038.0 L1196.5,1038.0 L1197.0,1037.9 L1197.5,1038.0 L1198.0,1037.8 L1198.5,1037.8 L1199.0,1037.6 L1199.5,1037.6 L1200.0,1037.7 L1200.5,1037.8 L1201.0,1037.8 L1201.5,1037.9 L1202.0,1038.0 L1202.5,1038.0 L1203.0,1038.1 L1203.5,1038.0 L1204.0,1037.9 L1204.5,1037.8 L1205.0,1038.0 L1205.5,1038.2 L1206.0,1038.2 L1206.5,1037.9 L1207.0,1037.9 L1207.5,1037.9 L1208.0,1038.0 L1208.5,1037.9 L1209.0,1038.0 L1209.5,1038.0 L1210.0,1038.2 L1210.5,1038.0 L1211.0,1038.1 L1211.5,1038.1 L1212.0,1038.0 L1212.5,1038.0 L1213.0,1038.2 L1213.5,1038.4 L1214.0,1038.4 L1214.5,1038.3 L1215.0,1038.0 L1215.5,1038.1 L1216.0,1037.9 L1216.5,1037.9 L1217.0,1037.8 L1217.5,1037.8 L1218.0,1037.9 L1218.5,1038.1 L1219.0,1038.1 L1219.5,1038.1 L1220.0,1038.0 L1220.5,1037.9 L1221.0,1038.0 L1221.5,1037.8 L1222.0,1037.8 L1222.5,1037.7 L1223.0,1037.7 L1223.5,1037.8 L1224.0,1038.1 L1224.5,1038.2 L1225.0,1038.1 L1225.5,1038.0 L1226.0,1037.8 L1226.5,1037.9 L1227.0,1037.8 L1227.5,1037.7 L1228.0,1037.6 L1228.5,1037.7 L1229.0,1037.8 L1229.5,1037.9 L1230.0,1037.9 L1230.5,1037.9 L1231.0,1037.8 L1231.5,1037.8 L1232.0,1037.8 L1232.5,1037.9 L1233.0,1038.1 L1233.5,1038.0 L1234.0,1038.0 L1234.5,1038.0 L1235.0,1038.1 L1235.5,1038.0 L1236.0,1037.9 L1236.5,1038.0 L1237.0,1038.0 L1237.5,1038.1 L1238.0,1038.1 L1238.5,1038.2 L1239.0,1038.1 L1239.5,1037.9 L1240.0,1037.9 L1240.5,1037.8 L1241.0,1037.9 L1241.5,1037.7 L1242.0,1037.7 L1242.5,1037.7 L1243.0,1038.0 L1243.5,1038.2 L1244.0,1038.2 L1244.5,1038.1 L1245.0,1038.0 L1245.5,1038.0 L1246.0,1038.2 L1246.5,1038.1 L1247.0,1038.1 L1247.5,1037.8 L1248.0,1037.6 L1248.5,1037.7 L1249.0,1037.8 L1249.5,1037.9 L1250.0,1037.8 L1250.5,1037.8 L1251.0,1037.8 L1251.5,1037.7 L1252.0,1037.7 L1252.5,1037.7 L1253.0,1037.7 L1253.5,1037.8 L1254.0,1037.9 L1254.5,1038.0 L1255.0,1037.9 L1255.5,1037.9 L1256.0,1038.0 L1256.5,1037.8 L1257.0,1037.7 L1257.5,1037.7 L1258.0,1038.0 L1258.5,1038.1 L1259.0,1038.0 L1259.5,1037.8 L1260.0,1037.8 L1260.5,1037.7 L1261.0,1037.8 L1261.5,1037.9 L1262.0,1037.7 L1262.5,1037.8 L1263.0,1037.6 L1263.5,1037.8 L1264.0,1037.8 L1264.5,1037.9 L1265.0,1038.1 L1265.5,1037.8 L1266.0,1037.7 L1266.5,1037.6 L1267.0,1037.7 L1267.5,1037.8 L1268.0,1037.9 L1268.5,1037.9 L1269.0,1037.7 L1269.5,1037.5 L1270.0,1037.8 L1270.5,1037.8 L1271.0,1037.9 L1271.5,1037.8 L1272.0,1037.7 L1272.5,1037.8 L1273.0,1037.8 L1273.5,1038.0 L1274.0,1037.9 L1274.5,1037.9 L1275.0,1037.7 L1275.5,1037.9 L1276.0,1038.0 L1276.5,1038.1 L1277.0,1038.0 L1277.5,1037.8 L1278.0,1038.0 L1278.5,1037.9 L1279.0,1037.9 L1279.5,1037.7 L1280.0,1037.9 L1280.5,1037.9 L1281.0,1038.1 L1281.5,1037.9 L1282.0,1037.8 L1282.5,1037.7 L1283.0,1037.7 L1283.5,1037.7 L1284.0,1037.6 L1284.5,1037.7 L1285.0,1038.0 L1285.5,1037.9 L1286.0,1037.6 L1286.5,1037.5 L1287.0,1037.7 L1287.5,1037.8 L1288.0,1037.8 L1288.5,1037.8 L1289.0,1038.0 L1289.5,1038.0 L1290.0,1038.0 L1290.5,1037.8 L1291.0,1037.7 L1291.5,1037.6 L1292.0,1037.5 L1292.5,1037.5 L1293.0,1037.5 L1293.5,1037.4 L1294.0,1037.5 L1294.5,1037.4 L1295.0,1037.5 L1295.5,1037.3 L1296.0,1037.1 L1296.5,1037.1 L1297.0,1037.1 L1297.5,1037.2 L1298.0,1037.2 L1298.5,1037.2 L1299.0,1037.1 L1299.5,1037.1 L1300.0,1037.1 L1300.5,1037.0 L1301.0,1036.9 L1301.5,1037.0 L1302.0,1037.2 L1302.5,1037.4 L1303.0,1037.1 L1303.5,1036.8 L1304.0,1036.6 L1304.5,1036.6 L1305.0,1036.7 L1305.5,1036.8 L1306.0,1036.7 L1306.5,1036.8 L1307.0,1036.4 L1307.5,1036.1 L1308.0,1035.7 L1308.5,1035.5 L1309.0,1035.3 L1309.5,1035.1 L1310.0,1034.8 L1310.5,1034.7 L1311.0,1034.3 L1311.5,1033.8 L1312.0,1033.1 L1312.5,1032.5 L1313.0,1031.8 L1313.5,1030.6 L1314.0,1028.9 L1314.5,1026.8 L1315.0,1024.3 L1315.5,1021.1 L1316.0,1017.5 L1316.5,1014.4 L1317.0,1011.5 L1317.5,1009.0 L1318.0,1006.5 L1318.5,1004.6 L1319.0,1003.0 L1319.5,1001.6 L1320.0,1001.1 L1320.5,1002.0 L1321.0,1003.5 L1321.5,1004.8 L1322.0,1006.4 L1322.5,1008.2 L1323.0,1010.3 L1323.5,1011.9 L1324.0,1013.6 L1324.5,1015.2 L1325.0,1016.9 L1325.5,1018.4 L1326.0,1019.7 L1326.5,1021.4 L1327.0,1022.8 L1327.5,1024.6 L1328.0,1026.2 L1328.5,1028.0 L1329.0,1029.4 L1329.5,1030.8 L1330.0,1032.2 L1330.5,1033.2 L1331.0,1034.1 L1331.5,1034.6 L1332.0,1035.2 L1332.5,1035.4 L1333.0,1035.7 L1333.5,1035.8 L1334.0,1036.1 L1334.5,1036.3 L1335.0,1036.3 L1335.5,1036.4 L1336.0,1036.4 L1336.5,1036.6 L1337.0,1036.5 L1337.5,1036.7 L1338.0,1036.7 L1338.5,1037.0 L1339.0,1036.9 L1339.5,1037.0 L1340.0,1036.9 L1340.5,1037.1 L1341.0,1037.1 L1341.5,1037.0 L1342.0,1037.0 L1342.5,1037.1 L1343.0,1037.4 L1343.5,1037.5 L1344.0,1037.5 L1344.5,1037.5 L1345.0,1037.4 L1345.5,1037.5 L1346.0,1037.5 L1346.5,1037.8 L1347.0,1037.7 L1347.5,1037.5 L1348.0,1037.4 L1348.5,1037.4 L1349.0,1037.6 L1349.5,1037.8 L1350.0,1038.0 L1350.5,1038.0 L1351.0,1037.9 L1351.5,1037.8 L1352.0,1037.7 L1352.5,1037.8 L1353.0,1037.9 L1353.5,1037.9 L1354.0,1037.7 L1354.5,1037.7 L1355.0,1037.6 L1355.5,1037.8 L1356.0,1037.8 L1356.5,1037.8 L1357.0,1037.7 L1357.5,1037.5 L1358.0,1037.6 L1358.5,1037.7 L1359.0,1037.8 L1359.5,1037.7 L1360.0,1037.7 L1360.5,1037.7 L1361.0,1037.8 L1361.5,1037.7 L1362.0,1037.7 L1362.5,1037.7 L1363.0,1037.8 L1363.5,1038.0 L1364.0,1038.0 L1364.5,1038.0 L1365.0,1037.9 L1365.5,1037.7 L1366.0,1037.8 L1366.5,1037.9 L1367.0,1037.9 L1367.5,1037.9 L1368.0,1037.9 L1368.5,1037.8 L1369.0,1037.9 L1369.5,1037.7 L1370.0,1037.9 L1370.5,1037.8 L1371.0,1037.8 L1371.5,1037.9 L1372.0,1037.9 L1372.5,1038.0 L1373.0,1037.9 L1373.5,1038.1 L1374.0,1037.8 L1374.5,1037.8 L1375.0,1037.7 L1375.5,1037.8 L1376.0,1037.7 L1376.5,1037.6 L1377.0,1037.8 L1377.5,1037.8 L1378.0,1037.8 L1378.5,1037.8 L1379.0,1037.8 L1379.5,1037.9 L1380.0,1038.1 L1380.5,1038.1 L1381.0,1038.1 L1381.5,1037.9 L1382.0,1038.0 L1382.5,1037.9 L1383.0,1038.1 L1383.5,1038.0 L1384.0,1038.1 L1384.5,1038.0 L1385.0,1037.9 L1385.5,1037.6 L1386.0,1037.6 L1386.5,1037.8 L1387.0,1038.0 L1387.5,1037.9 L1388.0,1037.9 L1388.5,1038.0 L1389.0,1038.1 L1389.5,1038.1 L1390.0,1037.9 L1390.5,1037.7 L1391.0,1037.5 L1391.5,1037.6 L1392.0,1037.9 L1392.5,1038.1 L1393.0,1038.1 L1393.5,1037.8 L1394.0,1037.7 L1394.5,1037.7 L1395.0,1037.8 L1395.5,1038.0 L1396.0,1037.9 L1396.5,1038.0 L1397.0,1037.9 L1397.5,1037.9 L1398.0,1038.0 L1398.5,1037.9 L1399.0,1037.9 L1399.5,1037.7 L1400.0,1037.8 L1400.5,1037.9 L1401.0,1038.1 L1401.5,1038.1 L1402.0,1038.1 L1402.5,1038.1 L1403.0,1038.1 L1403.5,1038.1 L1404.0,1037.9 L1404.5,1037.9 L1405.0,1037.9 L1405.5,1037.9 L1406.0,1037.9 L1406.5,1037.9 L1407.0,1038.0 L1407.5,1037.8 L1408.0,1037.7 L1408.5,1037.9 L1409.0,1038.0 L1409.5,1037.9 L1410.0,1037.7 L1410.5,1037.8 L1411.0,1037.8 L1411.5,1038.0 L1412.0,1038.0 L1412.5,1037.9 L1413.0,1037.7 L1413.5,1037.6 L1414.0,1037.6 L1414.5,1037.6 L1415.0,1037.7 L1415.5,1037.8 L1416.0,1038.0 L1416.5,1037.9 L1417.0,1037.9 L1417.5,1037.7 L1418.0,1037.8 L1418.5,1037.8 L1419.0,1038.0 L1419.5,1037.9 L1420.0,1038.0 L1420.5,1038.0 L1421.0,1038.0 L1421.5,1037.9 L1422.0,1037.8 L1422.5,1037.8 L1423.0,1038.0 L1423.5,1038.0 L1424.0,1038.2 L1424.5,1037.9 L1425.0,1037.7 L1425.5,1037.7 L1426.0,1037.8 L1426.5,1037.9 L1427.0,1037.8 L1427.5,1037.7 L1428.0,1037.8 L1428.5,1037.9 L1429.0,1037.9 L1429.5,1037.9 L1430.0,1037.7 L1430.5,1037.8 L1431.0,1037.8 L1431.5,1037.7 L1432.0,1038.0 L1432.5,1038.3 L1433.0,1038.5 L1433.5,1038.3 L1434.0,1037.9 L1434.5,1038.1 L1435.0,1038.0 L1435.5,1038.1 L1436.0,1038.0 L1436.5,1038.0 L1437.0,1038.0 L1437.5,1037.8 L1438.0,1037.8 L1438.5,1037.8 L1439.0,1037.9 L1439.5,1038.0 L1440.0,1038.1 L1440.5,1038.1 L1441.0,1038.1 L1441.5,1038.1 L1442.0,1038.0 L1442.5,1038.0 L1443.0,1037.8 L1443.5,1037.7 L1444.0,1037.8 L1444.5,1038.0 L1445.0,1038.2 L1445.5,1038.0 L1446.0,1038.0 L1446.5,1037.9 L1447.0,1037.9 L1447.5,1037.8 L1448.0,1038.1 L1448.5,1037.9 L1449.0,1037.6 L1449.5,1037.5 L1450.0,1037.7 L1450.5,1038.0 L1451.0,1037.9 L1451.5,1037.8 L1452.0,1037.7 L1452.5,1037.8 L1453.0,1037.9 L1453.5,1038.0 L1454.0,1037.7 L1454.5,1037.6 L1455.0,1037.7 L1455.5,1037.9 L1456.0,1038.0 L1456.5,1038.0 L1457.0,1038.2 L1457.5,1038.1 L1458.0,1038.0 L1458.5,1037.9 L1459.0,1037.9 L1459.5,1038.0 L1460.0,1037.9 L1460.5,1037.9 L1461.0,1037.8 L1461.5,1037.7 L1462.0,1037.8 L1462.5,1037.9 L1463.0,1038.1 L1463.5,1038.1 L1464.0,1038.2 L1464.5,1038.1 L1465.0,1037.9 L1465.5,1037.7 L1466.0,1037.7 L1466.5,1037.7 L1467.0,1037.8 L1467.5,1037.8 L1468.0,1037.9 L1468.5,1037.8 L1469.0,1037.8 L1469.5,1037.8 L1470.0,1037.9 L1470.5,1037.8 L1471.0,1037.7 L1471.5,1037.6 L1472.0,1037.6 L1472.5,1037.7 L1473.0,1037.9 L1473.5,1037.9 L1474.0,1037.7 L1474.5,1037.7 L1475.0,1037.9 L1475.5,1038.0 L1476.0,1037.8 L1476.5,1037.8 L1477.0,1037.8 L1477.5,1037.9 L1478.0,1038.0 L1478.5,1038.0 L1479.0,1037.9 L1479.5,1037.8 L1480.0,1037.6 L1480.5,1037.9 L1481.0,1037.9 L1481.5,1038.1 L1482.0,1038.1 L1482.5,1038.2 L1483.0,1038.2 L1483.5,1038.1 L1484.0,1037.8 L1484.5,1037.8 L1485.0,1037.7 L1485.5,1037.7 L1486.0,1037.6 L1486.5,1037.6 L1487.0,1037.6 L1487.5,1037.7 L1488.0,1037.8 L1488.5,1037.9 L1489.0,1037.8 L1489.5,1037.7 L1490.0,1037.7 L1490.5,1037.7 L1491.0,1037.9 L1491.5,1037.9 L1492.0,1037.7 L1492.5,1037.9 L1493.0,1037.8 L1493.5,1037.9 L1494.0,1037.7 L1494.5,1037.7 L1495.0,1037.8 L1495.5,1037.8 L1496.0,1037.8 L1496.5,1037.9 L1497.0,1037.9 L1497.5,1038.0 L1498.0,1038.0 L1498.5,1038.0 L1499.0,1038.1 L1499.5,1038.1 L1500.0,1038.1 L1500.5,1038.0 L1501.0,1037.9 L1501.5,1037.8 L1502.0,1037.7 L1502.5,1037.7 L1503.0,1037.7 L1503.5,1037.9 L1504.0,1037.9 L1504.5,1038.0 L1505.0,1038.0 L1505.5,1037.9 L1506.0,1037.9 L1506.5,1037.9 L1507.0,1037.9 L1507.5,1037.8 L1508.0,1037.7 L1508.5,1037.9 L1509.0,1038.0 L1509.5,1037.9 L1510.0,1037.7 L1510.5,1037.9 L1511.0,1038.0" fill="none" stroke="#ff0000" stroke-width="4.70" stroke-linejoin="round" stroke-linecap="round"/>
<path d="M315.5,964.7 L316.0,964.5 L316.5,964.7 L317.0,964.5 L317.5,964.6 L318.0,964.5 L318.5,964.6 L319.0,964.6 L319.5,964.5 L320.0,964.6 L320.5,964.9 L321.0,965.0 L321.5,964.9 L322.0,964.7 L322.5,964.7 L323.0,964.8 L323.5,964.9 L324.0,964.9 L324.5,964.9 L325.0,964.7 L325.5,964.7 L326.0,964.8 L326.5,964.8 L327.0,964.7 L327.5,964.7 L328.0,964.7 L328.5,964.7 L329.0,964.6 L329.5,964.6 L330.0,964.7 L330.5,965.1 L331.0,964.9 L331.5,964.9 L332.0,964.7 L332.5,965.1 L333.0,965.1 L333.5,965.0 L334.0,964.9 L334.5,964.9 L335.0,965.0 L335.5,965.0 L336.0,964.8 L336.5,965.0 L337.0,965.1 L337.5,965.2 L338.0,965.1 L338.5,965.0 L339.0,965.0 L339.5,964.9 L340.0,965.0 L340.5,965.1 L341.0,965.0 L341.5,964.9 L342.0,965.0 L342.5,965.2 L343.0,965.1 L343.5,965.1 L344.0,965.0 L344.5,964.9 L345.0,964.8 L345.5,964.8 L346.0,965.0 L346.5,965.0 L347.0,964.9 L347.5,964.9 L348.0,964.8 L348.5,964.8 L349.0,964.9 L349.5,965.0 L350.0,965.1 L350.5,965.1 L351.0,965.0 L351.5,965.1 L352.0,964.9 L352.5,965.1 L353.0,964.8 L353.5,964.9 L354.0,964.8 L354.5,964.9 L355.0,964.9 L355.5,964.8 L356.0,965.0 L356.5,965.1 L357.0,965.1 L357.5,964.8 L358.0,964.7 L358.5,964.7 L359.0,964.6 L359.5,964.2 L360.0,963.8 L360.5,963.6 L361.0,963.3 L361.5,963.4 L362.0,963.2 L362.5,963.5 L363.0,963.6 L363.5,964.0 L364.0,964.2 L364.5,964.0 L365.0,964.2 L365.5,964.1 L366.0,964.1 L366.5,963.9 L367.0,963.7 L367.5,963.9 L368.0,963.9 L368.5,963.8 L369.0,963.3 L369.5,962.9 L370.0,962.6 L370.5,962.4 L371.0,962.1 L371.5,961.9 L372.0,961.6 L372.5,961.4 L373.0,961.1 L373.5,960.8 L374.0,960.8 L374.5,960.4 L375.0,960.1 L375.5,959.6 L376.0,959.4 L376.5,959.2 L377.0,958.9 L377.5,958.7 L378.0,958.4 L378.5,957.7 L379.0,957.2 L379.5,956.4 L380.0,955.8 L380.5,955.0 L381.0,954.3 L381.5,953.7 L382.0,952.9 L382.5,952.0 L383.0,950.4 L383.5,948.0 L384.0,944.2 L384.5,939.9 L385.0,934.5 L385.5,928.0 L386.0,920.1 L386.5,912.4 L387.0,904.4 L387.5,892.9 L388.0,872.5 L388.5,835.9 L389.0,780.5 L389.5,706.3 L390.0,625.1 L390.5,541.6 L391.0,443.7 L391.5,300.2 L392.0,208.4 L392.5,177.1 L393.0,192.9 L393.5,249.8 L394.0,395.6 L394.5,505.4 L395.0,592.7 L395.5,673.9 L396.0,753.0 L396.5,816.5 L397.0,860.1 L397.5,886.8 L398.0,901.4 L398.5,910.8 L399.0,919.0 L399.5,927.0 L400.0,934.3 L400.5,939.5 L401.0,944.3 L401.5,948.6 L402.0,951.9 L402.5,953.7 L403.0,955.0 L403.5,956.0 L404.0,956.9 L404.5,957.9 L405.0,958.8 L405.5,959.7 L406.0,960.3 L406.5,960.8 L407.0,961.4 L407.5,961.9 L408.0,962.1 L408.5,962.3 L409.0,962.6 L409.5,963.0 L410.0,963.4 L410.5,963.6 L411.0,963.7 L411.5,963.7 L412.0,963.6 L412.5,964.0 L413.0,964.2 L413.5,964.5 L414.0,964.5 L414.5,964.5 L415.0,964.5 L415.5,964.4 L416.0,964.5 L416.5,964.8 L417.0,965.0 L417.5,964.9 L418.0,964.9 L418.5,964.9 L419.0,965.0 L419.5,965.0 L420.0,964.8 L420.5,964.9 L421.0,964.9 L421.5,965.0 L422.0,965.0 L422.5,965.0 L423.0,965.1 L423.5,965.3 L424.0,965.3 L424.5,965.3 L425.0,965.3 L425.5,965.5 L426.0,965.6 L426.5,965.5 L427.0,965.4 L427.5,965.3 L428.0,965.5 L428.5,965.5 L429.0,965.7 L429.5,965.7 L430.0,965.8 L430.5,965.8 L431.0,965.7 L431.5,965.6 L432.0,965.4 L432.5,965.4 L433.0,965.2 L433.5,965.5 L434.0,965.4 L434.5,965.6 L435.0,965.4 L435.5,965.3 L436.0,965.3 L436.5,965.4 L437.0,965.6 L437.5,965.7 L438.0,965.7 L438.5,965.7 L439.0,965.7 L439.5,965.8 L440.0,965.7 L440.5,965.7 L441.0,965.7 L441.5,965.8 L442.0,965.5 L442.5,965.5 L443.0,965.5 L443.5,965.8 L444.0,965.8 L444.5,965.9 L445.0,966.0 L445.5,966.0 L446.0,965.7 L446.5,965.7 L447.0,965.5 L447.5,965.5 L448.0,965.6 L448.5,965.6 L449.0,965.7 L449.5,965.5 L450.0,965.4 L450.5,965.4 L451.0,965.4 L451.5,965.5 L452.0,965.5 L452.5,965.6 L453.0,965.7 L453.5,965.9 L454.0,965.9 L454.5,965.8 L455.0,965.8 L455.5,965.5 L456.0,965.3 L456.5,965.2 L457.0,965.3 L457.5,965.4 L458.0,965.3 L458.5,965.1 L459.0,965.0 L459.5,965.0 L460.0,965.2 L460.5,965.2 L461.0,965.2 L461.5,965.0 L462.0,965.0 L462.5,964.8 L463.0,964.8 L463.5,964.8 L464.0,964.8 L464.5,964.9 L465.0,965.0 L465.5,965.1 L466.0,965.1 L466.5,965.0 L467.0,965.0 L467.5,965.2 L468.0,965.2 L468.5,965.3 L469.0,965.4 L469.5,965.5 L470.0,965.6 L470.5,965.4 L471.0,965.4 L471.5,965.4 L472.0,965.5 L472.5,965.6 L473.0,965.5 L473.5,965.6 L474.0,965.7 L474.5,965.6 L475.0,965.7 L475.5,966.0 L476.0,966.1 L476.5,966.0 L477.0,965.8 L477.5,965.8 L478.0,966.1 L478.5,966.1 L479.0,966.0 L479.5,966.0 L480.0,966.0 L480.5,965.9 L481.0,965.9 L481.5,965.8 L482.0,966.1 L482.5,966.0 L483.0,966.1 L483.5,966.0 L484.0,966.1 L484.5,966.0 L485.0,965.9 L485.5,965.9 L486.0,966.0 L486.5,966.0 L487.0,966.2 L487.5,966.2 L488.0,966.2 L488.5,966.2 L489.0,966.2 L489.5,966.2 L490.0,965.9 L490.5,965.9 L491.0,966.0 L491.5,966.1 L492.0,966.3 L492.5,966.0 L493.0,965.9 L493.5,965.7 L494.0,965.7 L494.5,966.1 L495.0,966.2 L495.5,966.2 L496.0,965.9 L496.5,965.8 L497.0,965.9 L497.5,965.9 L498.0,966.1 L498.5,966.2 L499.0,966.2 L499.5,966.0 L500.0,965.9 L500.5,965.9 L501.0,966.1 L501.5,966.0 L502.0,966.1 L502.5,966.1 L503.0,966.1 L503.5,965.9 L504.0,966.0 L504.5,966.2 L505.0,966.4 L505.5,966.3 L506.0,966.1 L506.5,966.0 L507.0,965.9 L507.5,965.9 L508.0,966.0 L508.5,966.1 L509.0,966.0 L509.5,965.9 L510.0,966.1 L510.5,966.3 L511.0,966.3 L511.5,966.4 L512.0,966.5 L512.5,966.4 L513.0,966.2 L513.5,966.1 L514.0,966.0 L514.5,966.1 L515.0,966.0 L515.5,966.1 L516.0,966.1 L516.5,966.1 L517.0,966.1 L517.5,965.8 L518.0,965.8 L518.5,965.7 L519.0,965.9 L519.5,966.0 L520.0,966.2 L520.5,966.1 L521.0,966.1 L521.5,966.0 L522.0,966.1 L522.5,966.0 L523.0,966.1 L523.5,966.0 L524.0,965.9 L524.5,965.8 L525.0,966.0 L525.5,966.0 L526.0,965.9 L526.5,965.8 L527.0,965.9 L527.5,966.0 L528.0,965.9 L528.5,965.9 L529.0,966.0 L529.5,966.0 L530.0,966.1 L530.5,966.2 L531.0,966.1 L531.5,966.1 L532.0,966.1 L532.5,966.0 L533.0,965.8 L533.5,965.7 L534.0,966.0 L534.5,966.1 L535.0,966.3 L535.5,966.2 L536.0,966.1 L536.5,966.1 L537.0,966.0 L537.5,965.8 L538.0,965.8 L538.5,965.7 L539.0,965.9 L539.5,965.9 L540.0,966.3 L540.5,966.2 L541.0,966.2 L541.5,966.0 L542.0,966.1 L542.5,966.1 L543.0,965.9 L543.5,965.8 L544.0,965.8 L544.5,965.8 L545.0,965.9 L545.5,965.8 L546.0,966.0 L546.5,965.9 L547.0,966.2 L547.5,966.0 L548.0,966.1 L548.5,965.8 L549.0,965.9 L549.5,966.1 L550.0,966.1 L550.5,966.1 L551.0,966.0 L551.5,966.1 L552.0,966.0 L552.5,966.1 L553.0,966.0 L553.5,965.7 L554.0,965.7 L554.5,965.9 L555.0,966.1 L555.5,966.0 L556.0,965.9 L556.5,966.0 L557.0,966.0 L557.5,966.1 L558.0,965.9 L558.5,966.0 L559.0,965.8 L559.5,966.0 L560.0,965.9 L560.5,965.9 L561.0,965.7 L561.5,966.0 L562.0,966.1 L562.5,966.3 L563.0,966.2 L563.5,966.2 L564.0,966.1 L564.5,966.3 L565.0,966.3 L565.5,966.1 L566.0,966.1 L566.5,966.1 L567.0,966.1 L567.5,966.0 L568.0,965.9 L568.5,966.2 L569.0,966.2 L569.5,966.1 L570.0,965.9 L570.5,965.8 L571.0,966.2 L571.5,966.1 L572.0,966.1 L572.5,965.9 L573.0,965.8 L573.5,965.9 L574.0,965.9 L574.5,965.8 L575.0,965.9 L575.5,965.8 L576.0,965.9 L576.5,966.0 L577.0,966.3 L577.5,966.3 L578.0,966.4 L578.5,966.0 L579.0,966.1 L579.5,965.9 L580.0,966.1 L580.5,965.9 L581.0,965.9 L581.5,965.9 L582.0,966.0 L582.5,966.1 L583.0,966.3 L583.5,966.3 L584.0,966.2 L584.5,965.9 L585.0,965.7 L585.5,965.8 L586.0,965.9 L586.5,966.0 L587.0,965.9 L587.5,966.1 L588.0,966.2 L588.5,966.4 L589.0,966.3 L589.5,966.1 L590.0,965.9 L590.5,966.0 L591.0,966.1 L591.5,966.0 L592.0,965.9 L592.5,966.2 L593.0,966.2 L593.5,966.1 L594.0,965.9 L594.5,965.8 L595.0,966.0 L595.5,966.0 L596.0,966.1 L596.5,966.0 L597.0,965.9 L597.5,966.2 L598.0,966.2 L598.5,966.2 L599.0,965.9 L599.5,965.9 L600.0,966.0 L600.5,966.0 L601.0,966.1 L601.5,966.1 L602.0,966.2 L602.5,966.2 L603.0,966.2 L603.5,966.2 L604.0,966.0 L604.5,966.1 L605.0,966.2 L605.5,966.2 L606.0,966.1 L606.5,966.0 L607.0,966.3 L607.5,966.3 L608.0,966.4 L608.5,966.2 L609.0,966.1 L609.5,966.1 L610.0,966.0 L610.5,966.1 L611.0,966.1 L611.5,966.2 L612.0,966.3 L612.5,966.2 L613.0,966.1 L613.5,966.0 L614.0,965.9 L614.5,965.8 L615.0,965.9 L615.5,966.0 L616.0,966.1 L616.5,965.8 L617.0,965.6 L617.5,965.3 L618.0,965.4 L618.5,965.5 L619.0,965.7 L619.5,965.7 L620.0,965.5 L620.5,965.4 L621.0,965.5 L621.5,965.7 L622.0,965.9 L622.5,966.0 L623.0,966.0 L623.5,966.0 L624.0,966.2 L624.5,966.2 L625.0,965.9 L625.5,965.8 L626.0,965.9 L626.5,966.2 L627.0,966.3 L627.5,966.2 L628.0,966.2 L628.5,966.2 L629.0,966.3 L629.5,966.3 L630.0,966.3 L630.5,966.4 L631.0,966.5 L631.5,966.2 L632.0,966.1 L632.5,965.9 L633.0,966.0 L633.5,965.9 L634.0,966.1 L634.5,966.0 L635.0,966.2 L635.5,965.8 L636.0,965.9 L636.5,965.8 L637.0,966.0 L637.5,966.1 L638.0,966.3 L638.5,966.3 L639.0,966.2 L639.5,966.1 L640.0,966.3 L640.5,966.3 L641.0,966.0 L641.5,966.1 L642.0,966.1 L642.5,966.4 L643.0,966.2 L643.5,966.2 L644.0,966.0 L644.5,966.1 L645.0,966.2 L645.5,966.3 L646.0,966.3 L646.5,966.2 L647.0,966.1 L647.5,966.2 L648.0,966.2 L648.5,966.1 L649.0,966.0 L649.5,966.0 L650.0,966.2 L650.5,966.3 L651.0,966.5 L651.5,966.4 L652.0,966.3 L652.5,966.2 L653.0,966.1 L653.5,966.1 L654.0,966.1 L654.5,966.2 L655.0,966.3 L655.5,966.2 L656.0,966.0 L656.5,966.0 L657.0,965.9 L657.5,966.2 L658.0,966.0 L658.5,966.1 L659.0,965.8 L659.5,966.1 L660.0,966.1 L660.5,966.3 L661.0,966.0 L661.5,966.1 L662.0,966.1 L662.5,966.2 L663.0,966.2 L663.5,966.3 L664.0,966.1 L664.5,966.2 L665.0,966.3 L665.5,966.3 L666.0,966.2 L666.5,965.9 L667.0,965.8 L667.5,965.7 L668.0,965.9 L668.5,966.2 L669.0,966.2 L669.5,966.1 L670.0,966.0 L670.5,965.9 L671.0,966.0 L671.5,965.8 L672.0,965.8 L672.5,965.9 L673.0,966.3 L673.5,966.4 L674.0,966.4 L674.5,966.2 L675.0,966.2 L675.5,966.1 L676.0,965.9 L676.5,965.8 L677.0,965.8 L677.5,966.1 L678.0,966.1 L678.5,966.0 L679.0,965.9 L679.5,966.0 L680.0,966.2 L680.5,966.2 L681.0,966.2 L681.5,966.0 L682.0,966.1 L682.5,966.1 L683.0,966.1 L683.5,966.0 L684.0,966.0 L684.5,966.0 L685.0,966.1 L685.5,966.1 L686.0,966.2 L686.5,966.0 L687.0,966.1 L687.5,966.1 L688.0,966.2 L688.5,966.1 L689.0,966.0 L689.5,966.1 L690.0,966.1 L690.5,966.2 L691.0,966.1 L691.5,966.0 L692.0,965.8 L692.5,965.8 L693.0,966.0 L693.5,966.3 L694.0,966.4 L694.5,966.3 L695.0,965.9 L695.5,965.9 L696.0,965.9 L696.5,966.0 L697.0,966.0 L697.5,966.0 L698.0,966.1 L698.5,965.8 L699.0,965.9 L699.5,966.0 L700.0,966.1 L700.5,965.9 L701.0,965.9 L701.5,966.0 L702.0,966.2 L702.5,966.4 L703.0,966.4 L703.5,966.3 L704.0,966.2 L704.5,966.1 L705.0,966.0 L705.5,965.8 L706.0,965.8 L706.5,965.9 L707.0,965.9 L707.5,965.7 L708.0,966.0 L708.5,965.9 L709.0,965.9 L709.5,965.7 L710.0,965.9 L710.5,966.1 L711.0,966.1 L711.5,966.0 L712.0,965.8 L712.5,965.9 L713.0,966.0 L713.5,966.2 L714.0,966.2 L714.5,965.8 L715.0,965.6 L715.5,965.5 L716.0,965.4 L716.5,965.4 L717.0,965.6 L717.5,965.8 L718.0,965.8 L718.5,965.5 L719.0,965.6 L719.5,965.4 L720.0,965.5 L720.5,965.4 L721.0,965.5 L721.5,965.6 L722.0,965.5 L722.5,965.3 L723.0,964.9 L723.5,964.8 L724.0,964.7 L724.5,964.6 L725.0,964.4 L725.5,964.4 L726.0,964.4 L726.5,964.1 L727.0,963.9 L727.5,963.6 L728.0,963.3 L728.5,963.1 L729.0,963.0 L729.5,962.9 L730.0,962.3 L730.5,961.9 L731.0,961.1 L731.5,960.9 L732.0,960.0 L732.5,959.1 L733.0,957.8 L733.5,956.4 L734.0,954.7 L734.5,952.5 L735.0,949.2 L735.5,945.2 L736.0,940.9 L736.5,936.4 L737.0,931.9 L737.5,927.7 L738.0,923.3 L738.5,919.7 L739.0,916.7 L739.5,916.0 L740.0,918.0 L740.5,920.3 L741.0,922.8 L741.5,925.3 L742.0,928.4 L742.5,932.5 L743.0,937.0 L743.5,939.2 L744.0,941.5 L744.5,945.6 L745.0,950.8 L745.5,954.3 L746.0,956.6 L746.5,958.3 L747.0,959.6 L747.5,960.6 L748.0,961.3 L748.5,961.9 L749.0,962.3 L749.5,962.8 L750.0,963.1 L750.5,963.4 L751.0,963.6 L751.5,964.0 L752.0,964.5 L752.5,964.8 L753.0,964.8 L753.5,964.6 L754.0,964.6 L754.5,964.8 L755.0,965.0 L755.5,964.9 L756.0,964.9 L756.5,964.9 L757.0,965.1 L757.5,965.4 L758.0,965.5 L758.5,965.5 L759.0,965.5 L759.5,965.6 L760.0,965.6 L760.5,965.6 L761.0,965.6 L761.5,965.8 L762.0,965.7 L762.5,965.8 L763.0,965.7 L763.5,965.6 L764.0,965.7 L764.5,965.7 L765.0,965.9 L765.5,965.8 L766.0,965.9 L766.5,965.9 L767.0,965.9 L767.5,965.9 L768.0,966.0 L768.5,966.0 L769.0,966.0 L769.5,966.0 L770.0,966.0 L770.5,966.1 L771.0,966.0 L771.5,966.0 L772.0,965.8 L772.5,965.7 L773.0,965.8 L773.5,965.7 L774.0,965.8 L774.5,966.0 L775.0,966.2 L775.5,966.0 L776.0,965.8 L776.5,965.8 L777.0,966.0 L777.5,966.1 L778.0,966.2 L778.5,966.1 L779.0,966.1 L779.5,966.0 L780.0,966.1 L780.5,966.1 L781.0,966.2 L781.5,966.2 L782.0,966.0 L782.5,965.9 L783.0,966.0 L783.5,966.0 L784.0,966.1 L784.5,965.9 L785.0,966.2 L785.5,966.2 L786.0,966.3 L786.5,966.0 L787.0,966.4 L787.5,966.2 L788.0,966.3 L788.5,965.9 L789.0,966.1 L789.5,966.0 L790.0,966.1 L790.5,965.8 L791.0,965.9 L791.5,966.0 L792.0,966.3 L792.5,966.1 L793.0,966.1 L793.5,966.0 L794.0,966.1 L794.5,966.1 L795.0,966.1 L795.5,966.2 L796.0,966.2 L796.5,966.1 L797.0,966.0 L797.5,966.1 L798.0,966.1 L798.5,966.1 L799.0,966.0 L799.5,966.1 L800.0,966.2 L800.5,966.2 L801.0,966.0 L801.5,966.0 L802.0,966.1 L802.5,966.4 L803.0,966.4 L803.5,966.4 L804.0,966.3 L804.5,966.1 L805.0,966.0 L805.5,966.0 L806.0,966.2 L806.5,966.3 L807.0,966.3 L807.5,966.2 L808.0,966.1 L808.5,966.1 L809.0,966.3 L809.5,966.3 L810.0,966.4 L810.5,966.1 L811.0,966.1 L811.5,966.1 L812.0,966.3 L812.5,966.4 L813.0,966.3 L813.5,966.2 L814.0,966.2 L814.5,966.2 L815.0,966.2 L815.5,966.2 L816.0,966.2 L816.5,966.2 L817.0,966.1 L817.5,966.2 L818.0,966.1 L818.5,966.2 L819.0,966.2 L819.5,966.2 L820.0,966.1 L820.5,966.0 L821.0,966.2 L821.5,966.3 L822.0,966.3 L822.5,966.2 L823.0,966.1 L823.5,966.1 L824.0,966.3 L824.5,966.4 L825.0,966.5 L825.5,966.3 L826.0,966.2 L826.5,966.0 L827.0,966.2 L827.5,966.3 L828.0,966.3 L828.5,966.3 L829.0,966.2 L829.5,966.2 L830.0,966.1 L830.5,966.1 L831.0,966.3 L831.5,966.2 L832.0,966.1 L832.5,966.0 L833.0,965.9 L833.5,966.0 L834.0,966.0 L834.5,966.2 L835.0,966.6 L835.5,966.6 L836.0,966.4 L836.5,966.1 L837.0,966.2 L837.5,966.2 L838.0,966.2 L838.5,966.3 L839.0,966.4 L839.5,966.3 L840.0,966.1 L840.5,965.9 L841.0,965.9 L841.5,965.9 L842.0,966.2 L842.5,966.1 L843.0,966.0 L843.5,965.9 L844.0,966.1 L844.5,966.2 L845.0,966.2 L845.5,966.2 L846.0,966.3 L846.5,966.4 L847.0,966.3 L847.5,966.1 L848.0,966.2 L848.5,966.1 L849.0,966.2 L849.5,966.1 L850.0,966.0 L850.5,966.1 L851.0,966.1 L851.5,966.1 L852.0,966.0 L852.5,966.2 L853.0,966.3 L853.5,966.6 L854.0,966.4 L854.5,966.5 L855.0,966.3 L855.5,966.5 L856.0,966.4 L856.5,966.5 L857.0,966.3 L857.5,966.3 L858.0,966.3 L858.5,966.1 L859.0,966.1 L859.5,965.8 L860.0,965.9 L860.5,966.0 L861.0,966.2 L861.5,966.3 L862.0,966.4 L862.5,966.2 L863.0,966.2 L863.5,966.1 L864.0,966.2 L864.5,966.2 L865.0,966.1 L865.5,966.1 L866.0,966.3 L866.5,966.4 L867.0,966.3 L867.5,966.1 L868.0,966.1 L868.5,966.0 L869.0,966.1 L869.5,966.3 L870.0,966.4 L870.5,966.3 L871.0,966.2 L871.5,966.0 L872.0,966.2 L872.5,966.2 L873.0,966.2 L873.5,966.1 L874.0,966.0 L874.5,966.3 L875.0,966.3 L875.5,966.3 L876.0,966.1 L876.5,966.1 L877.0,966.1 L877.5,966.2 L878.0,966.2 L878.5,966.1 L879.0,966.1 L879.5,966.3 L880.0,966.4 L880.5,966.4 L881.0,966.2 L881.5,966.2 L882.0,966.1 L882.5,966.1 L883.0,966.0 L883.5,966.0 L884.0,966.1 L884.5,966.2 L885.0,966.2 L885.5,966.3 L886.0,966.3 L886.5,966.3 L887.0,966.3 L887.5,966.3 L888.0,966.2 L888.5,966.3 L889.0,966.1 L889.5,966.2 L890.0,966.1 L890.5,966.2 L891.0,966.3 L891.5,966.3 L892.0,966.0 L892.5,965.9 L893.0,966.1 L893.5,966.2 L894.0,966.3 L894.5,966.2 L895.0,966.2 L895.5,966.0 L896.0,966.1 L896.5,966.2 L897.0,966.4 L897.5,966.4 L898.0,966.2 L898.5,966.1 L899.0,966.0 L899.5,966.0 L900.0,966.0 L900.5,966.0 L901.0,966.2 L901.5,966.1 L902.0,966.3 L902.5,966.3 L903.0,966.3 L903.5,966.3 L904.0,966.4 L904.5,966.4 L905.0,966.1 L905.5,966.2 L906.0,965.9 L906.5,966.0 L907.0,965.7 L907.5,965.9 L908.0,965.9 L908.5,966.1 L909.0,966.0 L909.5,966.0 L910.0,966.0 L910.5,966.1 L911.0,966.2 L911.5,966.0 L912.0,966.0 L912.5,965.9 L913.0,966.0 L913.5,966.0 L914.0,966.1 L914.5,966.3 L915.0,966.3 L915.5,966.2 L916.0,966.2 L916.5,966.2 L917.0,966.0 L917.5,966.0 L918.0,966.1 L918.5,966.2 L919.0,966.2 L919.5,966.2 L920.0,966.1 L920.5,966.1 L921.0,966.0 L921.5,966.1 L922.0,966.2 L922.5,966.2 L923.0,966.2 L923.5,966.4 L924.0,966.5 L924.5,966.5 L925.0,966.2 L925.5,966.3 L926.0,966.2 L926.5,966.4 L927.0,966.6 L927.5,966.4 L928.0,966.3 L928.5,966.3 L929.0,966.4 L929.5,966.4 L930.0,966.2 L930.5,966.2 L931.0,966.4 L931.5,966.3 L932.0,966.3 L932.5,965.9 L933.0,966.1 L933.5,966.2 L934.0,966.4 L934.5,966.2 L935.0,965.9 L935.5,966.0 L936.0,966.1 L936.5,966.3 L937.0,966.3 L937.5,966.2 L938.0,966.0 L938.5,966.2 L939.0,966.3 L939.5,966.3 L940.0,966.2 L940.5,966.1 L941.0,966.2 L941.5,966.1 L942.0,966.1 L942.5,965.9 L943.0,966.1 L943.5,966.3 L944.0,966.5 L944.5,966.4 L945.0,966.3 L945.5,966.2 L946.0,966.1 L946.5,966.2 L947.0,966.4 L947.5,966.3 L948.0,966.1 L948.5,966.1 L949.0,966.2 L949.5,966.3 L950.0,966.2 L950.5,966.1 L951.0,966.1 L951.5,966.0 L952.0,966.0 L952.5,966.0 L953.0,966.2 L953.5,966.1 L954.0,966.2 L954.5,966.1 L955.0,966.1 L955.5,966.3 L956.0,966.4 L956.5,966.4 L957.0,966.3 L957.5,966.4 L958.0,966.3 L958.5,966.1 L959.0,966.0 L959.5,966.1 L960.0,966.3 L960.5,966.4 L961.0,966.4 L961.5,966.2 L962.0,966.3 L962.5,966.2 L963.0,966.2 L963.5,966.0 L964.0,966.0 L964.5,966.1 L965.0,966.1 L965.5,966.1 L966.0,966.1 L966.5,966.2 L967.0,966.2 L967.5,966.2 L968.0,966.2 L968.5,966.4 L969.0,966.4 L969.5,966.3 L970.0,966.2 L970.5,966.2 L971.0,966.5 L971.5,966.4 L972.0,966.4 L972.5,966.1 L973.0,966.4 L973.5,966.2 L974.0,966.1 L974.5,966.0 L975.0,966.1 L975.5,966.3 L976.0,966.3 L976.5,966.2 L977.0,966.3 L977.5,966.2 L978.0,966.2 L978.5,966.2 L979.0,966.1 L979.5,966.0 L980.0,965.9 L980.5,965.9 L981.0,966.1 L981.5,966.1 L982.0,966.1 L982.5,966.1 L983.0,966.0 L983.5,966.1 L984.0,966.1 L984.5,966.3 L985.0,966.2 L985.5,966.3 L986.0,966.3 L986.5,966.1 L987.0,966.2 L987.5,966.0 L988.0,966.3 L988.5,966.1 L989.0,966.1 L989.5,966.0 L990.0,965.9 L990.5,965.9 L991.0,966.1 L991.5,966.3 L992.0,966.5 L992.5,966.3 L993.0,966.1 L993.5,966.0 L994.0,965.8 L994.5,965.8 L995.0,965.7 L995.5,966.0 L996.0,966.1 L996.5,966.2 L997.0,966.0 L997.5,965.9 L998.0,966.0 L998.5,966.1 L999.0,966.2 L999.5,966.0 L1000.0,966.1 L1000.5,965.9 L1001.0,965.9 L1001.5,965.9 L1002.0,965.8 L1002.5,965.7 L1003.0,965.8 L1003.5,966.0 L1004.0,966.0 L1004.5,965.9 L1005.0,965.9 L1005.5,965.9 L1006.0,965.6 L1006.5,965.7 L1007.0,965.6 L1007.5,965.8 L1008.0,965.3 L1008.5,965.3 L1009.0,965.3 L1009.5,965.4 L1010.0,965.6 L1010.5,965.5 L1011.0,965.6 L1011.5,965.5 L1012.0,965.6 L1012.5,965.7 L1013.0,965.4 L1013.5,965.2 L1014.0,965.1 L1014.5,965.3 L1015.0,965.2 L1015.5,964.9 L1016.0,964.8 L1016.5,964.5 L1017.0,964.3 L1017.5,964.3 L1018.0,964.4 L1018.5,964.6 L1019.0,964.4 L1019.5,964.4 L1020.0,964.3 L1020.5,964.2 L1021.0,964.0 L1021.5,963.4 L1022.0,963.1 L1022.5,962.6 L1023.0,962.4 L1023.5,962.2 L1024.0,961.9 L1024.5,961.6 L1025.0,961.1 L1025.5,960.4 L1026.0,959.7 L1026.5,959.1 L1027.0,958.5 L1027.5,957.9 L1028.0,956.8 L1028.5,955.6 L1029.0,954.1 L1029.5,952.5 L1030.0,950.4 L1030.5,947.6 L1031.0,944.3 L1031.5,940.2 L1032.0,934.4 L1032.5,926.5 L1033.0,917.8 L1033.5,909.3 L1034.0,901.0 L1034.5,892.6 L1035.0,883.9 L1035.5,876.0 L1036.0,869.9 L1036.5,866.8 L1037.0,870.9 L1037.5,875.5 L1038.0,880.0 L1038.5,884.6 L1039.0,890.2 L1039.5,897.8 L1040.0,907.8 L1040.5,913.1 L1041.0,917.7 L1041.5,924.3 L1042.0,934.1 L1042.5,941.4 L1043.0,946.4 L1043.5,950.2 L1044.0,952.9 L1044.5,955.0 L1045.0,956.3 L1045.5,957.5 L1046.0,958.4 L1046.5,959.3 L1047.0,960.1 L1047.5,960.7 L1048.0,961.4 L1048.5,962.0 L1049.0,962.5 L1049.5,962.8 L1050.0,962.6 L1050.5,962.8 L1051.0,963.0 L1051.5,963.4 L1052.0,963.8 L1052.5,963.9 L1053.0,964.1 L1053.5,964.1 L1054.0,964.3 L1054.5,964.3 L1055.0,964.5 L1055.5,964.5 L1056.0,964.6 L1056.5,964.6 L1057.0,964.8 L1057.5,964.9 L1058.0,965.2 L1058.5,965.1 L1059.0,965.4 L1059.5,965.3 L1060.0,965.4 L1060.5,965.3 L1061.0,965.6 L1061.5,965.7 L1062.0,966.0 L1062.5,965.6 L1063.0,965.4 L1063.5,965.3 L1064.0,965.5 L1064.5,965.6 L1065.0,965.7 L1065.5,965.7 L1066.0,965.9 L1066.5,966.0 L1067.0,965.9 L1067.5,965.8 L1068.0,965.6 L1068.5,965.8 L1069.0,965.8 L1069.5,965.9 L1070.0,965.7 L1070.5,965.7 L1071.0,965.8 L1071.5,965.9 L1072.0,965.9 L1072.5,965.7 L1073.0,965.9 L1073.5,965.9 L1074.0,966.1 L1074.5,965.9 L1075.0,966.0 L1075.5,965.9 L1076.0,966.0 L1076.5,965.8 L1077.0,965.7 L1077.5,965.9 L1078.0,965.9 L1078.5,965.9 L1079.0,965.8 L1079.5,965.9 L1080.0,966.0 L1080.5,965.9 L1081.0,966.0 L1081.5,965.8 L1082.0,965.8 L1082.5,965.9 L1083.0,966.1 L1083.5,966.0 L1084.0,966.0 L1084.5,965.9 L1085.0,966.2 L1085.5,966.1 L1086.0,966.1 L1086.5,966.1 L1087.0,966.1 L1087.5,966.0 L1088.0,966.0 L1088.5,966.1 L1089.0,966.2 L1089.5,966.2 L1090.0,966.1 L1090.5,966.0 L1091.0,966.0 L1091.5,966.1 L1092.0,966.2 L1092.5,966.0 L1093.0,966.1 L1093.5,965.9 L1094.0,966.0 L1094.5,965.9 L1095.0,965.7 L1095.5,965.7 L1096.0,965.8 L1096.5,965.9 L1097.0,966.0 L1097.5,966.0 L1098.0,966.0 L1098.5,966.1 L1099.0,966.2 L1099.5,966.1 L1100.0,966.1 L1100.5,965.9 L1101.0,966.2 L1101.5,966.1 L1102.0,966.2 L1102.5,966.1 L1103.0,966.2 L1103.5,966.3 L1104.0,966.4 L1104.5,966.3 L1105.0,966.4 L1105.5,966.2 L1106.0,966.2 L1106.5,966.1 L1107.0,966.0 L1107.5,966.0 L1108.0,965.9 L1108.5,966.1 L1109.0,966.1 L1109.5,966.2 L1110.0,966.1 L1110.5,966.2 L1111.0,966.2 L1111.5,966.3 L1112.0,966.2 L1112.5,966.1 L1113.0,966.1 L1113.5,966.1 L1114.0,966.2 L1114.5,966.3 L1115.0,966.4 L1115.5,966.1 L1116.0,966.1 L1116.5,966.1 L1117.0,966.3 L1117.5,966.2 L1118.0,966.1 L1118.5,966.2 L1119.0,966.2 L1119.5,966.0 L1120.0,965.9 L1120.5,965.9 L1121.0,966.0 L1121.5,966.0 L1122.0,966.1 L1122.5,966.4 L1123.0,966.6 L1123.5,966.6 L1124.0,966.2 L1124.5,966.1 L1125.0,965.9 L1125.5,966.0 L1126.0,966.0 L1126.5,966.1 L1127.0,966.3 L1127.5,966.2 L1128.0,966.3 L1128.5,966.3 L1129.0,966.2 L1129.5,966.3 L1130.0,966.4 L1130.5,966.4 L1131.0,966.3 L1131.5,966.3 L1132.0,966.2 L1132.5,966.3 L1133.0,966.2 L1133.5,966.1 L1134.0,965.9 L1134.5,965.8 L1135.0,966.2 L1135.5,966.4 L1136.0,966.5 L1136.5,966.2 L1137.0,966.0 L1137.5,966.0 L1138.0,966.2 L1138.5,966.2 L1139.0,966.1 L1139.5,966.0 L1140.0,965.9 L1140.5,966.2 L1141.0,966.2 L1141.5,966.3 L1142.0,966.2 L1142.5,966.0 L1143.0,966.0 L1143.5,966.1 L1144.0,966.2 L1144.5,966.2 L1145.0,966.2 L1145.5,966.2 L1146.0,966.2 L1146.5,966.2 L1147.0,966.3 L1147.5,966.2 L1148.0,966.2 L1148.5,966.2 L1149.0,966.1 L1149.5,966.1 L1150.0,966.2 L1150.5,966.3 L1151.0,966.5 L1151.5,966.3 L1152.0,966.2 L1152.5,966.2 L1153.0,966.2 L1153.5,966.4 L1154.0,966.4 L1154.5,966.5 L1155.0,966.4 L1155.5,966.0 L1156.0,966.0 L1156.5,966.0 L1157.0,966.4 L1157.5,966.4 L1158.0,966.4 L1158.5,966.4 L1159.0,966.2 L1159.5,966.1 L1160.0,966.1 L1160.5,966.3 L1161.0,966.2 L1161.5,966.0 L1162.0,965.9 L1162.5,966.0 L1163.0,966.2 L1163.5,966.4 L1164.0,966.5 L1164.5,966.4 L1165.0,966.3 L1165.5,966.2 L1166.0,966.3 L1166.5,966.2 L1167.0,966.3 L1167.5,966.2 L1168.0,966.2 L1168.5,966.0 L1169.0,966.2 L1169.5,966.2 L1170.0,966.3 L1170.5,966.3 L1171.0,966.2 L1171.5,966.3 L1172.0,966.3 L1172.5,966.4 L1173.0,966.3 L1173.5,966.2 L1174.0,966.1 L1174.5,966.2 L1175.0,966.3 L1175.5,966.3 L1176.0,966.2 L1176.5,966.2 L1177.0,966.4 L1177.5,966.4 L1178.0,966.2 L1178.5,965.8 L1179.0,965.9 L1179.5,965.9 L1180.0,966.2 L1180.5,966.2 L1181.0,966.3 L1181.5,966.5 L1182.0,966.4 L1182.5,966.4 L1183.0,966.1 L1183.5,966.0 L1184.0,966.0 L1184.5,966.1 L1185.0,966.4 L1185.5,966.4 L1186.0,966.3 L1186.5,966.2 L1187.0,966.3 L1187.5,966.2 L1188.0,966.2 L1188.5,966.2 L1189.0,966.2 L1189.5,966.1 L1190.0,966.0 L1190.5,966.1 L1191.0,966.3 L1191.5,966.5 L1192.0,966.7 L1192.5,966.6 L1193.0,966.5 L1193.5,966.3 L1194.0,966.2 L1194.5,966.2 L1195.0,966.4 L1195.5,966.3 L1196.0,966.2 L1196.5,966.2 L1197.0,966.3 L1197.5,966.2 L1198.0,966.2 L1198.5,966.2 L1199.0,966.2 L1199.5,966.1 L1200.0,966.2 L1200.5,966.4 L1201.0,966.5 L1201.5,966.3 L1202.0,966.3 L1202.5,966.2 L1203.0,966.4 L1203.5,966.4 L1204.0,966.5 L1204.5,966.6 L1205.0,966.4 L1205.5,966.2 L1206.0,966.2 L1206.5,966.2 L1207.0,966.2 L1207.5,966.4 L1208.0,966.5 L1208.5,966.6 L1209.0,966.6 L1209.5,966.6 L1210.0,966.5 L1210.5,966.4 L1211.0,966.5 L1211.5,966.5 L1212.0,966.3 L1212.5,966.2 L1213.0,966.0 L1213.5,966.1 L1214.0,966.0 L1214.5,966.1 L1215.0,966.4 L1215.5,966.3 L1216.0,966.4 L1216.5,966.4 L1217.0,966.4 L1217.5,966.4 L1218.0,966.1 L1218.5,966.3 L1219.0,966.2 L1219.5,966.4 L1220.0,966.1 L1220.5,966.2 L1221.0,966.1 L1221.5,966.2 L1222.0,966.1 L1222.5,966.0 L1223.0,965.9 L1223.5,965.9 L1224.0,966.1 L1224.5,966.2 L1225.0,966.2 L1225.5,966.2 L1226.0,966.1 L1226.5,966.2 L1227.0,966.1 L1227.5,966.2 L1228.0,966.1 L1228.5,966.1 L1229.0,966.1 L1229.5,966.1 L1230.0,966.1 L1230.5,966.1 L1231.0,966.3 L1231.5,966.2 L1232.0,966.0 L1232.5,965.8 L1233.0,965.9 L1233.5,966.0 L1234.0,966.1 L1234.5,966.1 L1235.0,966.2 L1235.5,966.5 L1236.0,966.6 L1236.5,966.4 L1237.0,966.4 L1237.5,966.2 L1238.0,966.3 L1238.5,966.2 L1239.0,966.2 L1239.5,966.1 L1240.0,966.1 L1240.5,966.4 L1241.0,966.3 L1241.5,966.4 L1242.0,966.2 L1242.5,966.3 L1243.0,966.1 L1243.5,966.2 L1244.0,966.3 L1244.5,966.5 L1245.0,966.3 L1245.5,966.0 L1246.0,965.9 L1246.5,966.1 L1247.0,966.4 L1247.5,966.3 L1248.0,966.2 L1248.5,966.3 L1249.0,966.4 L1249.5,966.4 L1250.0,966.2 L1250.5,966.1 L1251.0,966.4 L1251.5,966.4 L1252.0,966.5 L1252.5,966.3 L1253.0,966.2 L1253.5,966.1 L1254.0,966.2 L1254.5,966.2 L1255.0,966.2 L1255.5,966.1 L1256.0,966.2 L1256.5,966.1 L1257.0,966.1 L1257.5,965.8 L1258.0,966.0 L1258.5,966.0 L1259.0,966.2 L1259.5,966.0 L1260.0,966.0 L1260.5,966.1 L1261.0,966.1 L1261.5,966.1 L1262.0,966.2 L1262.5,966.3 L1263.0,966.4 L1263.5,966.3 L1264.0,966.4 L1264.5,966.4 L1265.0,966.4 L1265.5,966.3 L1266.0,966.3 L1266.5,966.2 L1267.0,966.1 L1267.5,966.0 L1268.0,965.9 L1268.5,965.9 L1269.0,965.9 L1269.5,965.9 L1270.0,965.9 L1270.5,965.8 L1271.0,965.8 L1271.5,965.9 L1272.0,966.0 L1272.5,966.2 L1273.0,966.3 L1273.5,966.3 L1274.0,966.2 L1274.5,966.1 L1275.0,966.2 L1275.5,966.4 L1276.0,966.3 L1276.5,966.2 L1277.0,966.1 L1277.5,966.2 L1278.0,965.9 L1278.5,965.9 L1279.0,965.7 L1279.5,965.6 L1280.0,965.7 L1280.5,965.7 L1281.0,966.2 L1281.5,966.2 L1282.0,966.4 L1282.5,966.3 L1283.0,966.2 L1283.5,966.1 L1284.0,965.9 L1284.5,965.8 L1285.0,965.8 L1285.5,966.1 L1286.0,966.3 L1286.5,966.1 L1287.0,965.9 L1287.5,966.0 L1288.0,966.2 L1288.5,966.2 L1289.0,966.3 L1289.5,966.3 L1290.0,966.3 L1290.5,966.1 L1291.0,966.2 L1291.5,966.1 L1292.0,966.1 L1292.5,965.8 L1293.0,965.8 L1293.5,965.7 L1294.0,965.8 L1294.5,965.6 L1295.0,965.8 L1295.5,965.6 L1296.0,965.6 L1296.5,965.4 L1297.0,965.5 L1297.5,965.6 L1298.0,965.5 L1298.5,965.4 L1299.0,965.5 L1299.5,965.4 L1300.0,965.4 L1300.5,965.3 L1301.0,965.2 L1301.5,965.0 L1302.0,965.0 L1302.5,965.1 L1303.0,965.0 L1303.5,964.9 L1304.0,964.9 L1304.5,964.9 L1305.0,964.9 L1305.5,964.7 L1306.0,964.7 L1306.5,964.5 L1307.0,964.5 L1307.5,964.2 L1308.0,964.1 L1308.5,963.9 L1309.0,963.8 L1309.5,963.7 L1310.0,963.4 L1310.5,963.0 L1311.0,962.7 L1311.5,962.3 L1312.0,961.9 L1312.5,961.2 L1313.0,960.4 L1313.5,959.3 L1314.0,957.9 L1314.5,955.9 L1315.0,953.3 L1315.5,950.5 L1316.0,946.8 L1316.5,943.0 L1317.0,940.1 L1317.5,937.4 L1318.0,934.1 L1318.5,930.5 L1319.0,928.0 L1319.5,926.0 L1320.0,925.2 L1320.5,926.5 L1321.0,928.5 L1321.5,931.3 L1322.0,935.6 L1322.5,938.7 L1323.0,940.0 L1323.5,940.9 L1324.0,941.6 L1324.5,942.4 L1325.0,943.5 L1325.5,944.4 L1326.0,945.3 L1326.5,946.4 L1327.0,947.9 L1327.5,950.1 L1328.0,952.4 L1328.5,955.0 L1329.0,956.9 L1329.5,958.6 L1330.0,959.8 L1330.5,960.8 L1331.0,961.7 L1331.5,962.5 L1332.0,963.1 L1332.5,963.4 L1333.0,963.6 L1333.5,963.8 L1334.0,963.9 L1334.5,964.2 L1335.0,964.5 L1335.5,964.6 L1336.0,964.6 L1336.5,964.6 L1337.0,964.9 L1337.5,964.9 L1338.0,965.1 L1338.5,965.1 L1339.0,965.2 L1339.5,965.1 L1340.0,965.3 L1340.5,965.5 L1341.0,965.6 L1341.5,965.7 L1342.0,965.7 L1342.5,965.8 L1343.0,965.8 L1343.5,965.8 L1344.0,965.7 L1344.5,965.7 L1345.0,965.6 L1345.5,965.8 L1346.0,966.0 L1346.5,965.8 L1347.0,965.8 L1347.5,965.6 L1348.0,965.9 L1348.5,965.8 L1349.0,966.0 L1349.5,965.9 L1350.0,966.2 L1350.5,965.9 L1351.0,966.1 L1351.5,966.1 L1352.0,966.3 L1352.5,966.2 L1353.0,965.9 L1353.5,965.7 L1354.0,965.8 L1354.5,965.8 L1355.0,966.1 L1355.5,966.2 L1356.0,966.4 L1356.5,966.2 L1357.0,966.1 L1357.5,966.0 L1358.0,965.9 L1358.5,965.8 L1359.0,965.8 L1359.5,965.9 L1360.0,966.1 L1360.5,965.9 L1361.0,966.0 L1361.5,966.2 L1362.0,966.3 L1362.5,966.2 L1363.0,966.2 L1363.5,966.2 L1364.0,966.3 L1364.5,966.1 L1365.0,965.9 L1365.5,966.0 L1366.0,966.2 L1366.5,966.3 L1367.0,966.1 L1367.5,965.8 L1368.0,966.0 L1368.5,966.0 L1369.0,966.3 L1369.5,966.1 L1370.0,966.2 L1370.5,966.2 L1371.0,966.1 L1371.5,966.0 L1372.0,966.0 L1372.5,966.2 L1373.0,966.3 L1373.5,966.3 L1374.0,966.2 L1374.5,966.1 L1375.0,966.0 L1375.5,966.1 L1376.0,966.2 L1376.5,966.2 L1377.0,966.0 L1377.5,965.9 L1378.0,965.9 L1378.5,966.1 L1379.0,966.2 L1379.5,966.1 L1380.0,966.4 L1380.5,966.5 L1381.0,966.5 L1381.5,966.1 L1382.0,966.2 L1382.5,966.0 L1383.0,966.2 L1383.5,966.2 L1384.0,966.1 L1384.5,966.1 L1385.0,966.1 L1385.5,966.4 L1386.0,966.2 L1386.5,966.2 L1387.0,966.3 L1387.5,966.2 L1388.0,966.3 L1388.5,966.2 L1389.0,966.1 L1389.5,966.0 L1390.0,966.0 L1390.5,966.4 L1391.0,966.5 L1391.5,966.2 L1392.0,966.1 L1392.5,965.9 L1393.0,966.1 L1393.5,965.9 L1394.0,966.1 L1394.5,966.2 L1395.0,966.2 L1395.5,966.4 L1396.0,966.2 L1396.5,966.3 L1397.0,966.2 L1397.5,966.4 L1398.0,966.2 L1398.5,966.2 L1399.0,966.3 L1399.5,966.4 L1400.0,966.2 L1400.5,966.2 L1401.0,966.3 L1401.5,966.2 L1402.0,966.2 L1402.5,966.1 L1403.0,966.1 L1403.5,965.8 L1404.0,965.9 L1404.5,966.0 L1405.0,966.1 L1405.5,966.0 L1406.0,966.1 L1406.5,966.2 L1407.0,966.3 L1407.5,966.3 L1408.0,966.4 L1408.5,966.4 L1409.0,966.5 L1409.5,966.3 L1410.0,966.0 L1410.5,966.0 L1411.0,966.1 L1411.5,966.4 L1412.0,966.3 L1412.5,966.0 L1413.0,965.9 L1413.5,966.0 L1414.0,966.1 L1414.5,966.2 L1415.0,966.2 L1415.5,966.2 L1416.0,966.2 L1416.5,966.2 L1417.0,965.9 L1417.5,965.9 L1418.0,965.8 L1418.5,966.1 L1419.0,966.3 L1419.5,966.4 L1420.0,966.5 L1420.5,966.4 L1421.0,966.3 L1421.5,966.3 L1422.0,966.2 L1422.5,966.2 L1423.0,966.1 L1423.5,966.1 L1424.0,966.1 L1424.5,966.1 L1425.0,966.4 L1425.5,966.2 L1426.0,966.2 L1426.5,966.1 L1427.0,966.2 L1427.5,966.3 L1428.0,966.1 L1428.5,966.3 L1429.0,966.1 L1429.5,966.1 L1430.0,965.9 L1430.5,966.2 L1431.0,966.2 L1431.5,966.1 L1432.0,966.2 L1432.5,966.0 L1433.0,966.2 L1433.5,966.2 L1434.0,966.2 L1434.5,966.2 L1435.0,965.9 L1435.5,965.8 L1436.0,966.2 L1436.5,966.4 L1437.0,966.6 L1437.5,966.2 L1438.0,966.1 L1438.5,965.8 L1439.0,966.1 L1439.5,966.3 L1440.0,966.4 L1440.5,966.2 L1441.0,966.2 L1441.5,966.1 L1442.0,966.3 L1442.5,966.1 L1443.0,966.3 L1443.5,966.2 L1444.0,966.1 L1444.5,966.0 L1445.0,965.9 L1445.5,966.1 L1446.0,966.3 L1446.5,966.5 L1447.0,966.4 L1447.5,966.0 L1448.0,965.7 L1448.5,965.7 L1449.0,965.7 L1449.5,965.9 L1450.0,966.1 L1450.5,966.3 L1451.0,966.4 L1451.5,966.2 L1452.0,966.2 L1452.5,966.2 L1453.0,966.3 L1453.5,966.3 L1454.0,966.4 L1454.5,966.3 L1455.0,966.1 L1455.5,966.2 L1456.0,966.1 L1456.5,966.2 L1457.0,966.1 L1457.5,966.4 L1458.0,966.3 L1458.5,966.1 L1459.0,966.1 L1459.5,966.1 L1460.0,966.0 L1460.5,965.8 L1461.0,965.9 L1461.5,966.2 L1462.0,966.4 L1462.5,966.4 L1463.0,966.2 L1463.5,966.1 L1464.0,966.2 L1464.5,966.2 L1465.0,966.2 L1465.5,966.3 L1466.0,966.4 L1466.5,966.3 L1467.0,966.1 L1467.5,966.2 L1468.0,966.1 L1468.5,966.2 L1469.0,966.3 L1469.5,966.4 L1470.0,966.3 L1470.5,966.3 L1471.0,966.4 L1471.5,966.4 L1472.0,966.3 L1472.5,966.1 L1473.0,966.1 L1473.5,966.1 L1474.0,966.2 L1474.5,966.3 L1475.0,966.3 L1475.5,966.2 L1476.0,966.0 L1476.5,966.2 L1477.0,966.1 L1477.5,966.2 L1478.0,966.1 L1478.5,966.0 L1479.0,966.0 L1479.5,966.1 L1480.0,966.0 L1480.5,965.9 L1481.0,965.9 L1481.5,966.0 L1482.0,966.2 L1482.5,966.3 L1483.0,966.3 L1483.5,966.3 L1484.0,966.2 L1484.5,966.0 L1485.0,966.0 L1485.5,965.9 L1486.0,966.2 L1486.5,966.2 L1487.0,966.3 L1487.5,966.2 L1488.0,966.2 L1488.5,966.0 L1489.0,966.0 L1489.5,966.1 L1490.0,966.3 L1490.5,966.2 L1491.0,966.4 L1491.5,966.1 L1492.0,966.3 L1492.5,966.0 L1493.0,966.0 L1493.5,965.8 L1494.0,966.2 L1494.5,966.4 L1495.0,966.4 L1495.5,966.2 L1496.0,966.2 L1496.5,966.3 L1497.0,966.2 L1497.5,966.1 L1498.0,966.0 L1498.5,966.2 L1499.0,966.4 L1499.5,966.3 L1500.0,966.1 L1500.5,966.0 L1501.0,966.0 L1501.5,966.2 L1502.0,966.2 L1502.5,966.3 L1503.0,965.9 L1503.5,966.0 L1504.0,966.0 L1504.5,966.3 L1505.0,966.4 L1505.5,966.4 L1506.0,966.3 L1506.5,966.4 L1507.0,966.4 L1507.5,966.3 L1508.0,966.2 L1508.5,966.2 L1509.0,966.3 L1509.5,966.1 L1510.0,966.2 L1510.5,966.2 L1511.0,966.3" fill="none" stroke="#0000ff" stroke-width="4.70" stroke-linejoin="round" stroke-linecap="round"/>
<path d="M315.5,892.8 L316.0,892.8 L316.5,892.5 L317.0,892.4 L317.5,892.4 L318.0,892.6 L318.5,892.5 L319.0,892.6 L319.5,892.5 L320.0,892.5 L320.5,892.6 L321.0,892.7 L321.5,893.0 L322.0,892.9 L322.5,892.8 L323.0,892.6 L323.5,892.5 L324.0,892.6 L324.5,892.6 L325.0,892.6 L325.5,892.5 L326.0,892.7 L326.5,892.9 L327.0,892.8 L327.5,892.6 L328.0,892.7 L328.5,892.7 L329.0,892.7 L329.5,892.7 L330.0,892.8 L330.5,893.0 L331.0,892.9 L331.5,892.8 L332.0,892.6 L332.5,892.5 L333.0,892.4 L333.5,892.4 L334.0,892.8 L334.5,892.8 L335.0,892.8 L335.5,892.7 L336.0,892.7 L336.5,892.7 L337.0,892.6 L337.5,892.6 L338.0,892.7 L338.5,892.7 L339.0,892.6 L339.5,892.6 L340.0,892.7 L340.5,893.0 L341.0,893.2 L341.5,893.2 L342.0,893.2 L342.5,893.0 L343.0,893.0 L343.5,892.7 L344.0,892.8 L344.5,892.5 L345.0,892.8 L345.5,893.0 L346.0,893.1 L346.5,893.2 L347.0,893.0 L347.5,893.1 L348.0,892.9 L348.5,892.9 L349.0,892.9 L349.5,893.1 L350.0,893.1 L350.5,893.1 L351.0,892.9 L351.5,893.2 L352.0,893.1 L352.5,893.2 L353.0,893.1 L353.5,893.1 L354.0,892.9 L354.5,892.9 L355.0,892.8 L355.5,892.9 L356.0,892.8 L356.5,892.9 L357.0,892.8 L357.5,892.8 L358.0,892.8 L358.5,892.5 L359.0,891.9 L359.5,891.5 L360.0,891.2 L360.5,891.2 L361.0,890.9 L361.5,891.0 L362.0,891.0 L362.5,891.3 L363.0,891.5 L363.5,891.7 L364.0,891.9 L364.5,892.1 L365.0,892.3 L365.5,892.2 L366.0,891.9 L366.5,891.8 L367.0,891.9 L367.5,891.8 L368.0,891.5 L368.5,891.1 L369.0,891.0 L369.5,890.9 L370.0,890.7 L370.5,890.4 L371.0,890.1 L371.5,890.0 L372.0,889.7 L372.5,889.5 L373.0,889.2 L373.5,889.1 L374.0,888.6 L374.5,888.4 L375.0,888.0 L375.5,887.8 L376.0,887.3 L376.5,886.9 L377.0,886.5 L377.5,886.2 L378.0,886.0 L378.5,885.6 L379.0,884.9 L379.5,884.3 L380.0,883.6 L380.5,883.1 L381.0,882.6 L381.5,881.8 L382.0,880.9 L382.5,879.7 L383.0,878.2 L383.5,875.6 L384.0,871.8 L384.5,867.1 L385.0,861.7 L385.5,855.3 L386.0,847.7 L386.5,840.3 L387.0,831.8 L387.5,819.6 L388.0,797.5 L388.5,759.8 L389.0,702.8 L389.5,627.6 L390.0,546.8 L390.5,463.1 L391.0,363.1 L391.5,216.9 L392.0,135.9 L392.5,108.4 L393.0,128.2 L393.5,191.3 L394.0,339.5 L394.5,445.3 L395.0,530.9 L395.5,611.7 L396.0,689.3 L396.5,750.4 L397.0,792.2 L397.5,817.1 L398.0,830.8 L398.5,839.7 L399.0,847.4 L399.5,855.5 L400.0,862.4 L400.5,868.0 L401.0,872.8 L401.5,876.9 L402.0,879.9 L402.5,881.6 L403.0,882.9 L403.5,883.9 L404.0,885.0 L404.5,886.0 L405.0,887.0 L405.5,887.7 L406.0,888.3 L406.5,888.8 L407.0,889.0 L407.5,889.4 L408.0,889.7 L408.5,890.2 L409.0,890.7 L409.5,891.0 L410.0,891.1 L410.5,891.1 L411.0,891.3 L411.5,891.6 L412.0,891.9 L412.5,891.9 L413.0,892.2 L413.5,892.4 L414.0,892.5 L414.5,892.4 L415.0,892.3 L415.5,892.4 L416.0,892.5 L416.5,892.7 L417.0,892.8 L417.5,893.0 L418.0,893.1 L418.5,893.0 L419.0,893.0 L419.5,892.9 L420.0,892.9 L420.5,893.1 L421.0,893.1 L421.5,893.4 L422.0,893.2 L422.5,893.3 L423.0,893.2 L423.5,893.3 L424.0,893.3 L424.5,893.2 L425.0,893.2 L425.5,893.2 L426.0,893.2 L426.5,893.4 L427.0,893.4 L427.5,893.6 L428.0,893.3 L428.5,893.3 L429.0,893.2 L429.5,893.4 L430.0,893.6 L430.5,893.6 L431.0,893.6 L431.5,893.5 L432.0,893.8 L432.5,893.8 L433.0,893.8 L433.5,893.5 L434.0,893.5 L434.5,893.4 L435.0,893.4 L435.5,893.6 L436.0,893.9 L436.5,894.0 L437.0,893.8 L437.5,893.9 L438.0,893.9 L438.5,894.0 L439.0,893.9 L439.5,893.9 L440.0,893.9 L440.5,893.6 L441.0,893.5 L441.5,893.4 L442.0,893.5 L442.5,893.5 L443.0,893.5 L443.5,893.5 L444.0,893.8 L444.5,893.9 L445.0,893.9 L445.5,893.8 L446.0,893.7 L446.5,893.8 L447.0,893.7 L447.5,893.9 L448.0,893.7 L448.5,893.7 L449.0,893.6 L449.5,893.6 L450.0,893.7 L450.5,893.6 L451.0,893.8 L451.5,893.8 L452.0,893.9 L452.5,893.7 L453.0,893.8 L453.5,893.5 L454.0,893.5 L454.5,893.3 L455.0,893.5 L455.5,893.4 L456.0,893.5 L456.5,893.4 L457.0,893.5 L457.5,893.6 L458.0,893.6 L458.5,893.4 L459.0,893.1 L459.5,893.2 L460.0,893.3 L460.5,893.2 L461.0,892.9 L461.5,892.6 L462.0,892.6 L462.5,892.5 L463.0,892.6 L463.5,892.6 L464.0,892.9 L464.5,893.0 L465.0,893.0 L465.5,892.8 L466.0,892.7 L466.5,893.0 L467.0,893.1 L467.5,893.0 L468.0,892.9 L468.5,893.1 L469.0,893.2 L469.5,893.5 L470.0,893.5 L470.5,893.7 L471.0,893.5 L471.5,893.5 L472.0,893.5 L472.5,893.4 L473.0,893.4 L473.5,893.3 L474.0,893.5 L474.5,893.4 L475.0,893.8 L475.5,893.8 L476.0,894.1 L476.5,894.0 L477.0,893.8 L477.5,893.5 L478.0,893.4 L478.5,893.6 L479.0,893.9 L479.5,894.0 L480.0,894.0 L480.5,893.8 L481.0,893.8 L481.5,893.9 L482.0,894.0 L482.5,893.8 L483.0,893.6 L483.5,893.6 L484.0,893.8 L484.5,893.7 L485.0,893.8 L485.5,893.5 L486.0,893.7 L486.5,893.8 L487.0,894.2 L487.5,894.0 L488.0,893.8 L488.5,893.4 L489.0,893.6 L489.5,893.6 L490.0,893.8 L490.5,893.8 L491.0,893.8 L491.5,894.0 L492.0,894.0 L492.5,894.0 L493.0,893.7 L493.5,893.6 L494.0,893.5 L494.5,893.7 L495.0,893.8 L495.5,894.0 L496.0,893.9 L496.5,893.9 L497.0,893.8 L497.5,893.8 L498.0,893.9 L498.5,893.8 L499.0,894.0 L499.5,893.9 L500.0,894.1 L500.5,893.9 L501.0,894.1 L501.5,893.9 L502.0,893.9 L502.5,893.7 L503.0,893.9 L503.5,894.0 L504.0,893.9 L504.5,893.8 L505.0,893.6 L505.5,893.7 L506.0,893.6 L506.5,893.7 L507.0,893.6 L507.5,893.7 L508.0,893.6 L508.5,893.8 L509.0,893.8 L509.5,893.8 L510.0,893.8 L510.5,893.8 L511.0,893.6 L511.5,893.6 L512.0,893.6 L512.5,894.0 L513.0,894.2 L513.5,894.2 L514.0,894.2 L514.5,893.9 L515.0,893.8 L515.5,893.9 L516.0,894.1 L516.5,894.0 L517.0,894.0 L517.5,893.9 L518.0,894.2 L518.5,894.2 L519.0,894.1 L519.5,893.8 L520.0,893.8 L520.5,893.7 L521.0,893.9 L521.5,894.0 L522.0,894.2 L522.5,894.2 L523.0,894.0 L523.5,894.0 L524.0,893.9 L524.5,893.9 L525.0,894.0 L525.5,894.0 L526.0,893.9 L526.5,893.7 L527.0,893.7 L527.5,893.7 L528.0,893.6 L528.5,893.8 L529.0,894.1 L529.5,894.1 L530.0,894.1 L530.5,894.1 L531.0,894.0 L531.5,893.9 L532.0,893.8 L532.5,893.9 L533.0,893.8 L533.5,893.8 L534.0,893.8 L534.5,894.1 L535.0,894.3 L535.5,894.2 L536.0,894.2 L536.5,894.1 L537.0,894.0 L537.5,893.9 L538.0,893.8 L538.5,894.0 L539.0,893.9 L539.5,894.1 L540.0,894.1 L540.5,894.1 L541.0,894.0 L541.5,894.0 L542.0,894.0 L542.5,894.1 L543.0,894.0 L543.5,894.0 L544.0,893.8 L544.5,893.7 L545.0,893.7 L545.5,893.9 L546.0,894.0 L546.5,894.0 L547.0,893.8 L547.5,893.8 L548.0,893.9 L548.5,894.1 L549.0,894.1 L549.5,894.0 L550.0,893.8 L550.5,893.8 L551.0,893.7 L551.5,893.7 L552.0,893.8 L552.5,894.0 L553.0,894.1 L553.5,894.0 L554.0,893.9 L554.5,893.8 L555.0,893.7 L555.5,894.0 L556.0,894.0 L556.5,894.2 L557.0,894.1 L557.5,893.8 L558.0,893.9 L558.5,894.0 L559.0,894.0 L559.5,894.0 L560.0,894.0 L560.5,894.0 L561.0,894.1 L561.5,894.0 L562.0,894.0 L562.5,894.0 L563.0,894.0 L563.5,894.1 L564.0,894.0 L564.5,893.8 L565.0,894.0 L565.5,893.9 L566.0,894.1 L566.5,893.9 L567.0,894.0 L567.5,894.1 L568.0,894.0 L568.5,894.1 L569.0,894.0 L569.5,894.0 L570.0,893.9 L570.5,893.8 L571.0,893.8 L571.5,893.9 L572.0,894.0 L572.5,894.2 L573.0,894.1 L573.5,894.0 L574.0,893.8 L574.5,893.7 L575.0,893.8 L575.5,894.0 L576.0,893.9 L576.5,894.0 L577.0,893.8 L577.5,893.8 L578.0,893.7 L578.5,894.1 L579.0,894.2 L579.5,894.1 L580.0,894.0 L580.5,894.0 L581.0,894.2 L581.5,894.1 L582.0,894.0 L582.5,893.9 L583.0,894.0 L583.5,894.2 L584.0,894.4 L584.5,894.3 L585.0,894.1 L585.5,893.9 L586.0,893.9 L586.5,894.0 L587.0,894.1 L587.5,894.1 L588.0,894.2 L588.5,894.1 L589.0,894.0 L589.5,893.7 L590.0,893.7 L590.5,893.7 L591.0,893.6 L591.5,893.8 L592.0,893.9 L592.5,894.0 L593.0,893.9 L593.5,893.7 L594.0,893.7 L594.5,893.9 L595.0,893.9 L595.5,894.0 L596.0,893.9 L596.5,894.1 L597.0,894.1 L597.5,894.1 L598.0,894.0 L598.5,894.0 L599.0,894.1 L599.5,894.1 L600.0,894.0 L600.5,893.9 L601.0,894.0 L601.5,894.2 L602.0,894.3 L602.5,894.1 L603.0,893.9 L603.5,893.9 L604.0,894.0 L604.5,894.0 L605.0,894.0 L605.5,894.0 L606.0,894.2 L606.5,894.1 L607.0,894.1 L607.5,893.9 L608.0,893.9 L608.5,893.9 L609.0,894.1 L609.5,894.5 L610.0,894.5 L610.5,894.4 L611.0,894.2 L611.5,894.0 L612.0,894.1 L612.5,893.9 L613.0,894.1 L613.5,894.2 L614.0,894.4 L614.5,894.1 L615.0,894.1 L615.5,894.1 L616.0,894.1 L616.5,894.0 L617.0,893.7 L617.5,893.7 L618.0,893.6 L618.5,893.7 L619.0,893.6 L619.5,893.4 L620.0,893.4 L620.5,893.4 L621.0,893.6 L621.5,893.5 L622.0,893.7 L622.5,893.9 L623.0,894.1 L623.5,894.1 L624.0,894.2 L624.5,894.3 L625.0,894.3 L625.5,894.2 L626.0,894.0 L626.5,894.0 L627.0,894.0 L627.5,894.2 L628.0,894.1 L628.5,894.1 L629.0,893.9 L629.5,894.1 L630.0,894.0 L630.5,894.1 L631.0,894.0 L631.5,894.0 L632.0,893.9 L632.5,894.1 L633.0,894.2 L633.5,894.2 L634.0,894.0 L634.5,893.9 L635.0,893.9 L635.5,894.2 L636.0,894.1 L636.5,894.0 L637.0,893.8 L637.5,893.9 L638.0,893.8 L638.5,893.8 L639.0,894.0 L639.5,894.0 L640.0,894.0 L640.5,894.0 L641.0,894.2 L641.5,894.2 L642.0,894.3 L642.5,894.3 L643.0,894.2 L643.5,894.1 L644.0,894.0 L644.5,894.1 L645.0,893.9 L645.5,894.1 L646.0,893.9 L646.5,894.2 L647.0,894.2 L647.5,894.3 L648.0,894.2 L648.5,894.2 L649.0,894.0 L649.5,894.0 L650.0,894.0 L650.5,894.2 L651.0,894.2 L651.5,894.5 L652.0,894.5 L652.5,894.5 L653.0,894.1 L653.5,894.3 L654.0,894.0 L654.5,894.2 L655.0,894.0 L655.5,893.9 L656.0,893.7 L656.5,893.7 L657.0,893.9 L657.5,894.0 L658.0,894.1 L658.5,894.1 L659.0,894.1 L659.5,893.8 L660.0,893.9 L660.5,894.0 L661.0,894.1 L661.5,893.9 L662.0,893.7 L662.5,893.9 L663.0,894.0 L663.5,894.1 L664.0,893.8 L664.5,894.0 L665.0,894.0 L665.5,894.0 L666.0,893.8 L666.5,893.8 L667.0,894.0 L667.5,894.1 L668.0,894.2 L668.5,894.1 L669.0,894.2 L669.5,894.1 L670.0,894.1 L670.5,894.2 L671.0,894.2 L671.5,894.1 L672.0,894.0 L672.5,894.0 L673.0,894.1 L673.5,894.1 L674.0,894.1 L674.5,894.0 L675.0,894.0 L675.5,894.1 L676.0,894.1 L676.5,894.2 L677.0,894.1 L677.5,894.2 L678.0,893.9 L678.5,893.9 L679.0,893.9 L679.5,894.0 L680.0,893.9 L680.5,893.9 L681.0,893.9 L681.5,893.7 L682.0,893.8 L682.5,894.0 L683.0,894.1 L683.5,894.2 L684.0,894.1 L684.5,894.0 L685.0,893.9 L685.5,894.2 L686.0,894.2 L686.5,894.0 L687.0,893.8 L687.5,893.9 L688.0,893.9 L688.5,894.0 L689.0,893.9 L689.5,893.9 L690.0,894.0 L690.5,894.2 L691.0,894.2 L691.5,894.2 L692.0,893.9 L692.5,893.9 L693.0,893.8 L693.5,893.9 L694.0,894.0 L694.5,894.0 L695.0,893.9 L695.5,893.8 L696.0,893.7 L696.5,893.9 L697.0,894.0 L697.5,894.2 L698.0,894.0 L698.5,893.9 L699.0,893.9 L699.5,893.9 L700.0,893.8 L700.5,893.8 L701.0,894.0 L701.5,894.1 L702.0,894.1 L702.5,894.0 L703.0,894.0 L703.5,894.0 L704.0,893.8 L704.5,893.8 L705.0,893.8 L705.5,894.1 L706.0,894.1 L706.5,894.1 L707.0,893.9 L707.5,893.9 L708.0,893.8 L708.5,893.9 L709.0,893.9 L709.5,894.0 L710.0,893.9 L710.5,893.9 L711.0,893.9 L711.5,893.8 L712.0,893.8 L712.5,893.7 L713.0,893.8 L713.5,893.7 L714.0,893.5 L714.5,893.6 L715.0,893.5 L715.5,893.6 L716.0,893.5 L716.5,893.4 L717.0,893.6 L717.5,893.5 L718.0,893.7 L718.5,893.5 L719.0,893.4 L719.5,893.1 L720.0,893.2 L720.5,893.2 L721.0,893.3 L721.5,893.2 L722.0,893.1 L722.5,893.1 L723.0,892.8 L723.5,892.8 L724.0,892.6 L724.5,892.5 L725.0,892.5 L725.5,892.5 L726.0,892.1 L726.5,891.7 L727.0,891.4 L727.5,891.5 L728.0,891.4 L728.5,891.2 L729.0,890.7 L729.5,890.5 L730.0,890.0 L730.5,889.8 L731.0,889.1 L731.5,888.5 L732.0,887.7 L732.5,886.7 L733.0,885.6 L733.5,884.2 L734.0,882.4 L734.5,880.2 L735.0,876.9 L735.5,873.0 L736.0,868.5 L736.5,864.1 L737.0,859.5 L737.5,855.1 L738.0,850.6 L738.5,846.9 L739.0,843.9 L739.5,843.4 L740.0,845.3 L740.5,847.6 L741.0,849.7 L741.5,852.5 L742.0,855.6 L742.5,859.9 L743.0,864.4 L743.5,867.0 L744.0,869.3 L744.5,873.4 L745.0,878.4 L745.5,882.1 L746.0,884.4 L746.5,886.4 L747.0,887.5 L747.5,888.3 L748.0,888.8 L748.5,889.6 L749.0,890.3 L749.5,890.7 L750.0,891.1 L750.5,891.5 L751.0,891.7 L751.5,891.8 L752.0,891.7 L752.5,892.0 L753.0,892.3 L753.5,892.7 L754.0,892.9 L754.5,893.0 L755.0,893.1 L755.5,893.2 L756.0,893.0 L756.5,893.0 L757.0,893.0 L757.5,893.1 L758.0,893.3 L758.5,893.4 L759.0,893.6 L759.5,893.5 L760.0,893.4 L760.5,893.5 L761.0,893.5 L761.5,893.6 L762.0,893.5 L762.5,893.6 L763.0,893.8 L763.5,893.8 L764.0,893.6 L764.5,893.7 L765.0,893.8 L765.5,894.0 L766.0,893.9 L766.5,893.9 L767.0,894.0 L767.5,894.2 L768.0,894.1 L768.5,893.9 L769.0,893.9 L769.5,893.9 L770.0,894.0 L770.5,893.9 L771.0,893.7 L771.5,893.7 L772.0,893.8 L772.5,894.1 L773.0,894.2 L773.5,894.2 L774.0,894.1 L774.5,894.1 L775.0,894.0 L775.5,894.1 L776.0,894.1 L776.5,894.1 L777.0,894.0 L777.5,894.0 L778.0,893.9 L778.5,893.8 L779.0,893.6 L779.5,893.8 L780.0,893.9 L780.5,894.3 L781.0,894.3 L781.5,894.2 L782.0,893.8 L782.5,894.0 L783.0,893.9 L783.5,894.1 L784.0,893.7 L784.5,893.9 L785.0,893.9 L785.5,894.1 L786.0,894.1 L786.5,894.0 L787.0,893.9 L787.5,894.0 L788.0,894.1 L788.5,894.1 L789.0,894.1 L789.5,894.0 L790.0,894.1 L790.5,894.2 L791.0,894.2 L791.5,894.1 L792.0,894.1 L792.5,894.1 L793.0,894.3 L793.5,894.3 L794.0,894.4 L794.5,894.3 L795.0,894.3 L795.5,894.2 L796.0,894.1 L796.5,894.0 L797.0,894.1 L797.5,894.1 L798.0,894.1 L798.5,893.9 L799.0,893.8 L799.5,893.8 L800.0,894.0 L800.5,894.1 L801.0,894.1 L801.5,894.0 L802.0,894.2 L802.5,894.2 L803.0,894.2 L803.5,894.0 L804.0,894.1 L804.5,894.1 L805.0,894.1 L805.5,894.0 L806.0,893.9 L806.5,894.1 L807.0,893.9 L807.5,894.1 L808.0,894.0 L808.5,894.1 L809.0,893.9 L809.5,893.8 L810.0,894.0 L810.5,894.0 L811.0,894.1 L811.5,894.1 L812.0,894.1 L812.5,894.1 L813.0,894.1 L813.5,894.1 L814.0,894.3 L814.5,894.2 L815.0,894.2 L815.5,894.1 L816.0,894.0 L816.5,893.9 L817.0,893.6 L817.5,893.7 L818.0,893.9 L818.5,894.1 L819.0,894.4 L819.5,894.2 L820.0,894.2 L820.5,894.1 L821.0,894.0 L821.5,894.0 L822.0,894.0 L822.5,894.2 L823.0,894.2 L823.5,894.2 L824.0,894.1 L824.5,894.1 L825.0,894.0 L825.5,894.1 L826.0,894.0 L826.5,894.1 L827.0,894.0 L827.5,894.2 L828.0,894.2 L828.5,894.2 L829.0,894.2 L829.5,894.1 L830.0,894.2 L830.5,894.2 L831.0,894.3 L831.5,894.4 L832.0,894.4 L832.5,894.2 L833.0,894.2 L833.5,894.3 L834.0,894.4 L834.5,894.2 L835.0,893.8 L835.5,893.9 L836.0,893.9 L836.5,894.2 L837.0,893.9 L837.5,894.0 L838.0,893.9 L838.5,894.1 L839.0,894.0 L839.5,894.0 L840.0,894.0 L840.5,894.0 L841.0,894.0 L841.5,894.0 L842.0,894.0 L842.5,894.1 L843.0,894.1 L843.5,894.1 L844.0,894.0 L844.5,894.1 L845.0,894.0 L845.5,894.1 L846.0,893.8 L846.5,893.8 L847.0,893.6 L847.5,894.0 L848.0,894.1 L848.5,894.1 L849.0,893.9 L849.5,894.0 L850.0,894.2 L850.5,894.3 L851.0,894.0 L851.5,893.9 L852.0,893.9 L852.5,894.2 L853.0,894.3 L853.5,894.3 L854.0,894.0 L854.5,894.2 L855.0,894.1 L855.5,894.1 L856.0,893.8 L856.5,893.8 L857.0,893.9 L857.5,894.2 L858.0,894.1 L858.5,894.2 L859.0,894.0 L859.5,894.1 L860.0,893.9 L860.5,893.8 L861.0,893.7 L861.5,894.0 L862.0,894.0 L862.5,894.1 L863.0,894.0 L863.5,893.9 L864.0,894.0 L864.5,893.9 L865.0,894.1 L865.5,894.1 L866.0,894.2 L866.5,894.1 L867.0,894.1 L867.5,894.2 L868.0,894.1 L868.5,894.1 L869.0,893.9 L869.5,894.1 L870.0,894.0 L870.5,894.1 L871.0,894.1 L871.5,894.3 L872.0,894.3 L872.5,894.1 L873.0,893.9 L873.5,894.0 L874.0,894.1 L874.5,894.2 L875.0,894.4 L875.5,894.2 L876.0,894.2 L876.5,893.9 L877.0,894.0 L877.5,894.1 L878.0,894.1 L878.5,894.2 L879.0,894.2 L879.5,894.2 L880.0,893.9 L880.5,893.9 L881.0,893.8 L881.5,894.0 L882.0,893.9 L882.5,893.9 L883.0,893.9 L883.5,893.9 L884.0,894.0 L884.5,894.1 L885.0,894.0 L885.5,894.0 L886.0,893.9 L886.5,893.9 L887.0,894.0 L887.5,894.0 L888.0,893.9 L888.5,893.9 L889.0,893.9 L889.5,894.2 L890.0,894.2 L890.5,894.1 L891.0,893.9 L891.5,894.1 L892.0,894.1 L892.5,894.1 L893.0,893.9 L893.5,893.8 L894.0,894.0 L894.5,894.0 L895.0,894.2 L895.5,894.0 L896.0,894.0 L896.5,894.0 L897.0,894.2 L897.5,894.5 L898.0,894.5 L898.5,894.3 L899.0,894.0 L899.5,893.9 L900.0,894.2 L900.5,894.1 L901.0,894.2 L901.5,894.1 L902.0,894.2 L902.5,894.2 L903.0,894.2 L903.5,894.0 L904.0,893.7 L904.5,893.9 L905.0,894.1 L905.5,894.2 L906.0,894.0 L906.5,894.1 L907.0,894.1 L907.5,894.2 L908.0,894.0 L908.5,894.0 L909.0,894.0 L909.5,894.1 L910.0,894.2 L910.5,894.1 L911.0,893.9 L911.5,893.8 L912.0,893.9 L912.5,893.9 L913.0,893.9 L913.5,893.8 L914.0,893.9 L914.5,894.0 L915.0,894.0 L915.5,894.1 L916.0,894.2 L916.5,894.3 L917.0,894.2 L917.5,894.1 L918.0,894.0 L918.5,894.0 L919.0,894.1 L919.5,894.2 L920.0,894.2 L920.5,894.2 L921.0,894.2 L921.5,894.0 L922.0,894.0 L922.5,893.9 L923.0,894.1 L923.5,894.0 L924.0,894.1 L924.5,894.0 L925.0,894.1 L925.5,894.2 L926.0,894.2 L926.5,894.1 L927.0,894.1 L927.5,894.2 L928.0,894.1 L928.5,894.1 L929.0,894.0 L929.5,894.0 L930.0,894.0 L930.5,894.0 L931.0,894.1 L931.5,894.2 L932.0,894.1 L932.5,894.2 L933.0,894.1 L933.5,894.0 L934.0,893.9 L934.5,893.8 L935.0,893.9 L935.5,894.0 L936.0,894.3 L936.5,894.4 L937.0,894.2 L937.5,894.0 L938.0,894.0 L938.5,894.2 L939.0,894.4 L939.5,894.2 L940.0,894.1 L940.5,893.8 L941.0,893.9 L941.5,894.0 L942.0,894.1 L942.5,894.2 L943.0,894.1 L943.5,894.3 L944.0,894.2 L944.5,894.1 L945.0,894.2 L945.5,894.2 L946.0,894.2 L946.5,894.2 L947.0,894.3 L947.5,894.4 L948.0,894.0 L948.5,893.9 L949.0,893.7 L949.5,893.9 L950.0,893.9 L950.5,894.1 L951.0,894.0 L951.5,894.1 L952.0,893.9 L952.5,894.1 L953.0,894.0 L953.5,894.0 L954.0,893.7 L954.5,893.6 L955.0,893.6 L955.5,893.8 L956.0,894.1 L956.5,894.3 L957.0,894.1 L957.5,893.8 L958.0,893.7 L958.5,893.7 L959.0,893.9 L959.5,893.8 L960.0,894.2 L960.5,894.1 L961.0,894.2 L961.5,894.1 L962.0,894.2 L962.5,894.1 L963.0,894.1 L963.5,893.9 L964.0,893.8 L964.5,893.6 L965.0,893.8 L965.5,894.0 L966.0,894.1 L966.5,894.3 L967.0,894.2 L967.5,894.2 L968.0,894.0 L968.5,894.1 L969.0,894.1 L969.5,894.1 L970.0,894.2 L970.5,894.3 L971.0,894.4 L971.5,894.1 L972.0,893.9 L972.5,893.8 L973.0,893.9 L973.5,893.9 L974.0,893.9 L974.5,894.0 L975.0,894.0 L975.5,894.0 L976.0,893.9 L976.5,894.0 L977.0,893.9 L977.5,894.0 L978.0,894.1 L978.5,894.0 L979.0,894.0 L979.5,894.0 L980.0,894.1 L980.5,894.0 L981.0,894.1 L981.5,894.1 L982.0,894.0 L982.5,893.8 L983.0,893.6 L983.5,893.8 L984.0,893.8 L984.5,893.9 L985.0,893.9 L985.5,894.1 L986.0,894.3 L986.5,894.3 L987.0,894.4 L987.5,894.2 L988.0,894.3 L988.5,894.1 L989.0,893.9 L989.5,893.9 L990.0,894.0 L990.5,894.0 L991.0,893.9 L991.5,893.8 L992.0,894.0 L992.5,893.9 L993.0,893.8 L993.5,893.9 L994.0,894.1 L994.5,894.2 L995.0,894.2 L995.5,894.0 L996.0,894.0 L996.5,893.9 L997.0,893.9 L997.5,893.8 L998.0,893.8 L998.5,893.9 L999.0,894.0 L999.5,894.0 L1000.0,893.9 L1000.5,893.9 L1001.0,893.5 L1001.5,893.4 L1002.0,893.3 L1002.5,893.5 L1003.0,893.6 L1003.5,893.7 L1004.0,893.7 L1004.5,893.7 L1005.0,893.5 L1005.5,893.5 L1006.0,893.4 L1006.5,893.4 L1007.0,893.6 L1007.5,893.5 L1008.0,893.8 L1008.5,893.6 L1009.0,893.7 L1009.5,893.5 L1010.0,893.4 L1010.5,893.3 L1011.0,893.4 L1011.5,893.5 L1012.0,893.5 L1012.5,893.4 L1013.0,893.2 L1013.5,893.3 L1014.0,893.2 L1014.5,893.1 L1015.0,892.9 L1015.5,892.8 L1016.0,892.8 L1016.5,892.7 L1017.0,892.6 L1017.5,892.5 L1018.0,892.5 L1018.5,892.3 L1019.0,892.2 L1019.5,892.1 L1020.0,892.1 L1020.5,891.9 L1021.0,891.6 L1021.5,891.4 L1022.0,891.1 L1022.5,890.9 L1023.0,890.4 L1023.5,890.1 L1024.0,889.7 L1024.5,889.5 L1025.0,889.0 L1025.5,888.5 L1026.0,887.7 L1026.5,886.9 L1027.0,885.8 L1027.5,885.1 L1028.0,884.4 L1028.5,883.6 L1029.0,882.1 L1029.5,880.3 L1030.0,878.1 L1030.5,875.6 L1031.0,872.1 L1031.5,867.9 L1032.0,861.9 L1032.5,854.0 L1033.0,845.6 L1033.5,837.2 L1034.0,828.8 L1034.5,820.3 L1035.0,811.6 L1035.5,803.7 L1036.0,797.4 L1036.5,794.3 L1037.0,798.4 L1037.5,802.8 L1038.0,807.4 L1038.5,812.2 L1039.0,817.7 L1039.5,825.3 L1040.0,835.3 L1040.5,840.8 L1041.0,845.5 L1041.5,852.0 L1042.0,861.8 L1042.5,869.0 L1043.0,874.4 L1043.5,878.1 L1044.0,880.9 L1044.5,882.7 L1045.0,884.3 L1045.5,885.5 L1046.0,886.2 L1046.5,887.1 L1047.0,888.0 L1047.5,888.8 L1048.0,889.3 L1048.5,889.7 L1049.0,890.1 L1049.5,890.5 L1050.0,890.8 L1050.5,891.4 L1051.0,891.4 L1051.5,891.9 L1052.0,891.9 L1052.5,892.2 L1053.0,892.3 L1053.5,892.3 L1054.0,892.5 L1054.5,892.3 L1055.0,892.4 L1055.5,892.4 L1056.0,892.7 L1056.5,892.7 L1057.0,892.9 L1057.5,893.1 L1058.0,893.1 L1058.5,893.2 L1059.0,893.0 L1059.5,893.1 L1060.0,892.9 L1060.5,893.1 L1061.0,893.2 L1061.5,893.4 L1062.0,893.4 L1062.5,893.6 L1063.0,893.6 L1063.5,893.7 L1064.0,893.5 L1064.5,893.3 L1065.0,893.2 L1065.5,893.5 L1066.0,893.7 L1066.5,893.8 L1067.0,893.8 L1067.5,893.8 L1068.0,893.7 L1068.5,893.6 L1069.0,893.8 L1069.5,894.0 L1070.0,893.8 L1070.5,893.8 L1071.0,893.8 L1071.5,893.9 L1072.0,893.8 L1072.5,893.9 L1073.0,893.9 L1073.5,893.7 L1074.0,893.8 L1074.5,893.6 L1075.0,893.8 L1075.5,893.7 L1076.0,894.0 L1076.5,893.9 L1077.0,893.9 L1077.5,894.0 L1078.0,893.9 L1078.5,893.9 L1079.0,893.9 L1079.5,893.9 L1080.0,893.8 L1080.5,893.9 L1081.0,894.1 L1081.5,894.1 L1082.0,894.1 L1082.5,894.0 L1083.0,894.2 L1083.5,894.2 L1084.0,894.0 L1084.5,893.8 L1085.0,893.9 L1085.5,894.2 L1086.0,894.2 L1086.5,894.0 L1087.0,893.8 L1087.5,893.9 L1088.0,894.0 L1088.5,893.8 L1089.0,894.0 L1089.5,894.0 L1090.0,894.2 L1090.5,894.0 L1091.0,893.8 L1091.5,893.6 L1092.0,893.8 L1092.5,893.8 L1093.0,894.0 L1093.5,894.1 L1094.0,894.2 L1094.5,894.1 L1095.0,894.1 L1095.5,894.2 L1096.0,894.2 L1096.5,894.1 L1097.0,894.0 L1097.5,894.0 L1098.0,894.1 L1098.5,894.1 L1099.0,894.3 L1099.5,894.1 L1100.0,894.1 L1100.5,894.1 L1101.0,894.2 L1101.5,894.2 L1102.0,894.2 L1102.5,894.2 L1103.0,894.2 L1103.5,894.1 L1104.0,894.0 L1104.5,893.9 L1105.0,893.8 L1105.5,893.8 L1106.0,893.9 L1106.5,894.1 L1107.0,894.2 L1107.5,894.3 L1108.0,894.2 L1108.5,894.1 L1109.0,893.9 L1109.5,893.9 L1110.0,893.9 L1110.5,894.1 L1111.0,894.0 L1111.5,894.1 L1112.0,894.0 L1112.5,894.2 L1113.0,894.1 L1113.5,894.2 L1114.0,894.1 L1114.5,894.2 L1115.0,893.9 L1115.5,894.0 L1116.0,894.0 L1116.5,894.1 L1117.0,894.1 L1117.5,893.9 L1118.0,894.2 L1118.5,894.1 L1119.0,894.3 L1119.5,894.2 L1120.0,894.1 L1120.5,894.2 L1121.0,894.3 L1121.5,894.3 L1122.0,894.2 L1122.5,894.1 L1123.0,894.1 L1123.5,894.0 L1124.0,894.1 L1124.5,894.1 L1125.0,894.3 L1125.5,894.3 L1126.0,894.4 L1126.5,894.3 L1127.0,894.2 L1127.5,894.0 L1128.0,894.0 L1128.5,894.2 L1129.0,894.2 L1129.5,894.3 L1130.0,894.0 L1130.5,894.0 L1131.0,894.0 L1131.5,893.9 L1132.0,893.8 L1132.5,893.9 L1133.0,894.2 L1133.5,894.3 L1134.0,894.1 L1134.5,894.1 L1135.0,894.0 L1135.5,894.0 L1136.0,894.0 L1136.5,894.3 L1137.0,894.2 L1137.5,894.3 L1138.0,894.2 L1138.5,894.1 L1139.0,893.9 L1139.5,893.9 L1140.0,894.0 L1140.5,894.1 L1141.0,894.0 L1141.5,894.0 L1142.0,894.0 L1142.5,894.1 L1143.0,894.1 L1143.5,894.0 L1144.0,894.2 L1144.5,894.2 L1145.0,894.1 L1145.5,894.0 L1146.0,894.2 L1146.5,894.5 L1147.0,894.3 L1147.5,893.9 L1148.0,893.9 L1148.5,894.0 L1149.0,894.3 L1149.5,894.1 L1150.0,894.3 L1150.5,894.3 L1151.0,894.2 L1151.5,894.1 L1152.0,894.0 L1152.5,894.0 L1153.0,894.0 L1153.5,893.9 L1154.0,893.8 L1154.5,893.7 L1155.0,893.7 L1155.5,893.9 L1156.0,894.1 L1156.5,894.3 L1157.0,894.1 L1157.5,893.8 L1158.0,893.9 L1158.5,894.0 L1159.0,894.1 L1159.5,893.9 L1160.0,893.8 L1160.5,894.0 L1161.0,894.1 L1161.5,894.2 L1162.0,893.9 L1162.5,894.1 L1163.0,894.1 L1163.5,894.2 L1164.0,894.1 L1164.5,894.1 L1165.0,894.2 L1165.5,894.1 L1166.0,894.1 L1166.5,893.9 L1167.0,894.1 L1167.5,893.9 L1168.0,894.0 L1168.5,894.0 L1169.0,894.0 L1169.5,894.0 L1170.0,894.0 L1170.5,894.0 L1171.0,894.0 L1171.5,894.1 L1172.0,894.1 L1172.5,894.1 L1173.0,894.0 L1173.5,894.1 L1174.0,894.0 L1174.5,893.9 L1175.0,893.9 L1175.5,893.9 L1176.0,893.9 L1176.5,893.9 L1177.0,894.0 L1177.5,894.1 L1178.0,894.1 L1178.5,894.0 L1179.0,894.0 L1179.5,894.0 L1180.0,894.1 L1180.5,894.2 L1181.0,894.2 L1181.5,894.2 L1182.0,893.9 L1182.5,893.9 L1183.0,893.8 L1183.5,893.8 L1184.0,893.8 L1184.5,894.0 L1185.0,894.1 L1185.5,894.1 L1186.0,894.1 L1186.5,893.9 L1187.0,894.2 L1187.5,894.4 L1188.0,894.5 L1188.5,894.3 L1189.0,894.1 L1189.5,894.2 L1190.0,894.1 L1190.5,894.0 L1191.0,894.0 L1191.5,893.9 L1192.0,894.1 L1192.5,893.9 L1193.0,894.0 L1193.5,894.0 L1194.0,894.2 L1194.5,894.3 L1195.0,894.2 L1195.5,894.1 L1196.0,894.0 L1196.5,893.9 L1197.0,893.9 L1197.5,893.7 L1198.0,893.9 L1198.5,893.9 L1199.0,894.1 L1199.5,893.9 L1200.0,893.9 L1200.5,893.9 L1201.0,894.2 L1201.5,894.3 L1202.0,894.3 L1202.5,894.1 L1203.0,894.1 L1203.5,894.0 L1204.0,894.1 L1204.5,894.2 L1205.0,894.1 L1205.5,894.3 L1206.0,894.1 L1206.5,894.1 L1207.0,893.9 L1207.5,893.9 L1208.0,893.9 L1208.5,893.9 L1209.0,893.9 L1209.5,893.9 L1210.0,893.7 L1210.5,893.8 L1211.0,894.0 L1211.5,894.1 L1212.0,894.1 L1212.5,894.0 L1213.0,894.0 L1213.5,894.0 L1214.0,893.9 L1214.5,894.0 L1215.0,893.8 L1215.5,893.8 L1216.0,894.0 L1216.5,894.2 L1217.0,894.3 L1217.5,894.2 L1218.0,894.0 L1218.5,893.9 L1219.0,893.8 L1219.5,894.0 L1220.0,894.0 L1220.5,894.2 L1221.0,894.2 L1221.5,894.2 L1222.0,894.2 L1222.5,894.1 L1223.0,894.1 L1223.5,894.1 L1224.0,894.0 L1224.5,894.2 L1225.0,894.2 L1225.5,894.1 L1226.0,893.9 L1226.5,893.8 L1227.0,893.8 L1227.5,893.9 L1228.0,894.0 L1228.5,894.0 L1229.0,894.1 L1229.5,894.0 L1230.0,893.9 L1230.5,894.0 L1231.0,894.0 L1231.5,894.3 L1232.0,894.2 L1232.5,894.1 L1233.0,894.0 L1233.5,894.0 L1234.0,893.9 L1234.5,894.0 L1235.0,894.0 L1235.5,894.2 L1236.0,894.0 L1236.5,894.1 L1237.0,894.0 L1237.5,894.1 L1238.0,894.1 L1238.5,894.2 L1239.0,894.2 L1239.5,894.2 L1240.0,894.2 L1240.5,894.4 L1241.0,894.1 L1241.5,894.0 L1242.0,894.1 L1242.5,894.1 L1243.0,894.3 L1243.5,894.1 L1244.0,894.2 L1244.5,894.2 L1245.0,894.2 L1245.5,894.3 L1246.0,894.2 L1246.5,894.2 L1247.0,894.1 L1247.5,894.2 L1248.0,894.2 L1248.5,894.2 L1249.0,894.2 L1249.5,894.2 L1250.0,894.1 L1250.5,894.3 L1251.0,894.2 L1251.5,894.2 L1252.0,894.1 L1252.5,894.0 L1253.0,894.1 L1253.5,894.2 L1254.0,894.3 L1254.5,894.2 L1255.0,894.1 L1255.5,894.0 L1256.0,893.8 L1256.5,893.9 L1257.0,893.9 L1257.5,894.1 L1258.0,894.1 L1258.5,894.1 L1259.0,894.2 L1259.5,894.0 L1260.0,894.1 L1260.5,893.8 L1261.0,894.0 L1261.5,894.0 L1262.0,894.0 L1262.5,894.1 L1263.0,894.0 L1263.5,894.1 L1264.0,894.1 L1264.5,894.2 L1265.0,894.2 L1265.5,894.2 L1266.0,894.2 L1266.5,894.2 L1267.0,894.2 L1267.5,894.0 L1268.0,894.0 L1268.5,894.0 L1269.0,894.2 L1269.5,894.1 L1270.0,894.0 L1270.5,894.0 L1271.0,894.0 L1271.5,893.9 L1272.0,893.9 L1272.5,893.9 L1273.0,894.1 L1273.5,893.9 L1274.0,894.1 L1274.5,894.0 L1275.0,893.9 L1275.5,893.9 L1276.0,893.8 L1276.5,894.0 L1277.0,894.0 L1277.5,894.2 L1278.0,894.2 L1278.5,894.1 L1279.0,894.2 L1279.5,894.3 L1280.0,894.3 L1280.5,894.0 L1281.0,893.8 L1281.5,893.7 L1282.0,893.8 L1282.5,893.9 L1283.0,894.3 L1283.5,894.1 L1284.0,894.1 L1284.5,893.9 L1285.0,894.0 L1285.5,894.1 L1286.0,894.0 L1286.5,893.9 L1287.0,894.0 L1287.5,894.1 L1288.0,894.0 L1288.5,893.8 L1289.0,893.8 L1289.5,893.7 L1290.0,893.8 L1290.5,893.8 L1291.0,893.9 L1291.5,893.8 L1292.0,893.9 L1292.5,893.9 L1293.0,893.9 L1293.5,893.5 L1294.0,893.4 L1294.5,893.5 L1295.0,893.8 L1295.5,893.8 L1296.0,893.5 L1296.5,893.3 L1297.0,893.4 L1297.5,893.6 L1298.0,893.5 L1298.5,893.5 L1299.0,893.2 L1299.5,893.1 L1300.0,893.0 L1300.5,893.1 L1301.0,893.2 L1301.5,893.3 L1302.0,893.2 L1302.5,893.2 L1303.0,893.0 L1303.5,893.0 L1304.0,892.8 L1304.5,892.6 L1305.0,892.4 L1305.5,892.1 L1306.0,892.3 L1306.5,892.4 L1307.0,892.4 L1307.5,892.2 L1308.0,892.0 L1308.5,891.7 L1309.0,891.8 L1309.5,891.5 L1310.0,891.4 L1310.5,890.9 L1311.0,890.6 L1311.5,890.0 L1312.0,889.6 L1312.5,888.7 L1313.0,888.0 L1313.5,886.9 L1314.0,885.6 L1314.5,883.6 L1315.0,881.2 L1315.5,878.3 L1316.0,874.6 L1316.5,871.0 L1317.0,868.3 L1317.5,865.7 L1318.0,862.3 L1318.5,858.9 L1319.0,856.3 L1319.5,854.5 L1320.0,853.4 L1320.5,854.8 L1321.0,856.7 L1321.5,859.6 L1322.0,863.8 L1322.5,866.7 L1323.0,868.0 L1323.5,868.6 L1324.0,869.3 L1324.5,870.3 L1325.0,871.5 L1325.5,872.6 L1326.0,873.5 L1326.5,874.7 L1327.0,875.9 L1327.5,877.9 L1328.0,880.3 L1328.5,882.9 L1329.0,884.8 L1329.5,886.3 L1330.0,887.6 L1330.5,888.5 L1331.0,889.4 L1331.5,890.2 L1332.0,890.9 L1332.5,891.2 L1333.0,891.3 L1333.5,891.6 L1334.0,891.8 L1334.5,892.1 L1335.0,892.1 L1335.5,892.2 L1336.0,892.3 L1336.5,892.4 L1337.0,892.4 L1337.5,892.4 L1338.0,892.5 L1338.5,892.8 L1339.0,893.0 L1339.5,893.1 L1340.0,893.2 L1340.5,893.1 L1341.0,893.2 L1341.5,893.4 L1342.0,893.6 L1342.5,893.5 L1343.0,893.5 L1343.5,893.4 L1344.0,893.3 L1344.5,893.4 L1345.0,893.3 L1345.5,893.3 L1346.0,893.4 L1346.5,893.6 L1347.0,893.9 L1347.5,893.8 L1348.0,893.8 L1348.5,893.8 L1349.0,893.8 L1349.5,893.6 L1350.0,893.8 L1350.5,894.0 L1351.0,894.3 L1351.5,894.1 L1352.0,893.9 L1352.5,893.8 L1353.0,893.9 L1353.5,893.8 L1354.0,893.8 L1354.5,893.8 L1355.0,894.1 L1355.5,894.2 L1356.0,894.1 L1356.5,893.8 L1357.0,894.0 L1357.5,894.0 L1358.0,894.2 L1358.5,894.1 L1359.0,893.9 L1359.5,894.1 L1360.0,894.1 L1360.5,894.4 L1361.0,894.1 L1361.5,894.0 L1362.0,894.0 L1362.5,894.1 L1363.0,894.0 L1363.5,893.8 L1364.0,893.7 L1364.5,893.9 L1365.0,894.0 L1365.5,893.9 L1366.0,894.0 L1366.5,894.1 L1367.0,894.4 L1367.5,894.1 L1368.0,894.0 L1368.5,894.0 L1369.0,894.1 L1369.5,894.0 L1370.0,893.8 L1370.5,893.8 L1371.0,893.9 L1371.5,894.0 L1372.0,894.2 L1372.5,894.3 L1373.0,894.3 L1373.5,894.2 L1374.0,894.0 L1374.5,894.0 L1375.0,893.9 L1375.5,893.8 L1376.0,893.9 L1376.5,893.9 L1377.0,894.0 L1377.5,894.0 L1378.0,894.1 L1378.5,894.1 L1379.0,893.9 L1379.5,893.7 L1380.0,894.0 L1380.5,894.2 L1381.0,894.3 L1381.5,894.1 L1382.0,894.0 L1382.5,894.0 L1383.0,894.0 L1383.5,894.1 L1384.0,894.3 L1384.5,894.2 L1385.0,894.1 L1385.5,894.0 L1386.0,894.0 L1386.5,894.2 L1387.0,894.1 L1387.5,894.3 L1388.0,894.3 L1388.5,894.4 L1389.0,894.2 L1389.5,894.1 L1390.0,893.9 L1390.5,894.0 L1391.0,893.9 L1391.5,893.9 L1392.0,893.8 L1392.5,894.0 L1393.0,894.1 L1393.5,894.2 L1394.0,894.2 L1394.5,894.1 L1395.0,894.0 L1395.5,894.1 L1396.0,894.2 L1396.5,894.3 L1397.0,894.4 L1397.5,894.3 L1398.0,894.2 L1398.5,894.0 L1399.0,893.9 L1399.5,893.9 L1400.0,893.9 L1400.5,894.2 L1401.0,894.3 L1401.5,894.5 L1402.0,894.2 L1402.5,894.1 L1403.0,894.1 L1403.5,894.3 L1404.0,894.2 L1404.5,894.1 L1405.0,894.1 L1405.5,894.2 L1406.0,894.2 L1406.5,894.2 L1407.0,894.3 L1407.5,894.3 L1408.0,894.2 L1408.5,894.2 L1409.0,894.1 L1409.5,894.2 L1410.0,894.1 L1410.5,894.2 L1411.0,894.1 L1411.5,894.1 L1412.0,894.1 L1412.5,894.0 L1413.0,894.1 L1413.5,894.2 L1414.0,894.3 L1414.5,894.3 L1415.0,894.2 L1415.5,894.2 L1416.0,894.2 L1416.5,894.5 L1417.0,894.5 L1417.5,894.5 L1418.0,894.3 L1418.5,894.2 L1419.0,894.1 L1419.5,894.2 L1420.0,894.3 L1420.5,894.3 L1421.0,894.1 L1421.5,893.9 L1422.0,893.8 L1422.5,893.8 L1423.0,894.0 L1423.5,893.9 L1424.0,894.1 L1424.5,894.1 L1425.0,894.0 L1425.5,894.0 L1426.0,893.9 L1426.5,894.2 L1427.0,894.2 L1427.5,894.2 L1428.0,894.0 L1428.5,894.1 L1429.0,894.1 L1429.5,894.2 L1430.0,894.0 L1430.5,894.0 L1431.0,893.9 L1431.5,893.7 L1432.0,893.8 L1432.5,893.9 L1433.0,894.1 L1433.5,894.0 L1434.0,894.1 L1434.5,893.9 L1435.0,894.0 L1435.5,894.0 L1436.0,894.2 L1436.5,894.3 L1437.0,894.3 L1437.5,894.2 L1438.0,894.3 L1438.5,894.1 L1439.0,894.1 L1439.5,894.0 L1440.0,894.2 L1440.5,894.1 L1441.0,894.1 L1441.5,893.8 L1442.0,893.7 L1442.5,893.8 L1443.0,894.0 L1443.5,894.1 L1444.0,894.1 L1444.5,894.1 L1445.0,894.1 L1445.5,894.0 L1446.0,893.9 L1446.5,893.9 L1447.0,894.1 L1447.5,894.4 L1448.0,894.3 L1448.5,894.2 L1449.0,894.2 L1449.5,894.3 L1450.0,894.4 L1450.5,894.3 L1451.0,894.2 L1451.5,894.0 L1452.0,894.0 L1452.5,894.0 L1453.0,894.0 L1453.5,893.8 L1454.0,893.9 L1454.5,893.9 L1455.0,894.0 L1455.5,893.9 L1456.0,893.9 L1456.5,894.1 L1457.0,894.0 L1457.5,894.1 L1458.0,894.0 L1458.5,894.0 L1459.0,893.9 L1459.5,893.9 L1460.0,894.0 L1460.5,894.0 L1461.0,893.8 L1461.5,893.9 L1462.0,894.1 L1462.5,894.2 L1463.0,894.2 L1463.5,894.2 L1464.0,894.3 L1464.5,894.2 L1465.0,894.2 L1465.5,894.1 L1466.0,894.4 L1466.5,894.4 L1467.0,894.4 L1467.5,894.3 L1468.0,894.3 L1468.5,894.1 L1469.0,894.1 L1469.5,894.2 L1470.0,894.2 L1470.5,894.2 L1471.0,894.0 L1471.5,894.1 L1472.0,894.1 L1472.5,894.2 L1473.0,894.2 L1473.5,894.1 L1474.0,894.0 L1474.5,894.0 L1475.0,894.1 L1475.5,894.3 L1476.0,894.3 L1476.5,894.3 L1477.0,894.1 L1477.5,894.1 L1478.0,894.1 L1478.5,894.2 L1479.0,894.3 L1479.5,894.1 L1480.0,894.3 L1480.5,894.4 L1481.0,894.5 L1481.5,894.1 L1482.0,893.9 L1482.5,893.9 L1483.0,894.0 L1483.5,894.1 L1484.0,894.0 L1484.5,894.3 L1485.0,894.3 L1485.5,894.3 L1486.0,894.2 L1486.5,894.3 L1487.0,894.3 L1487.5,894.1 L1488.0,894.2 L1488.5,894.1 L1489.0,894.1 L1489.5,894.0 L1490.0,893.9 L1490.5,893.9 L1491.0,894.0 L1491.5,894.2 L1492.0,894.3 L1492.5,894.2 L1493.0,894.1 L1493.5,894.1 L1494.0,894.0 L1494.5,893.9 L1495.0,893.7 L1495.5,893.7 L1496.0,893.7 L1496.5,893.9 L1497.0,894.0 L1497.5,894.1 L1498.0,894.2 L1498.5,894.3 L1499.0,894.3 L1499.5,894.2 L1500.0,894.3 L1500.5,894.4 L1501.0,894.3 L1501.5,894.1 L1502.0,894.1 L1502.5,894.2 L1503.0,894.2 L1503.5,894.3 L1504.0,894.1 L1504.5,894.1 L1505.0,894.1 L1505.5,894.1 L1506.0,894.2 L1506.5,894.1 L1507.0,894.1 L1507.5,893.9 L1508.0,893.9 L1508.5,893.9 L1509.0,894.1 L1509.5,894.2 L1510.0,894.3 L1510.5,894.2 L1511.0,894.2" fill="none" stroke="#00ff00" stroke-width="4.70" stroke-linejoin="round" stroke-linecap="round"/>
<rect x="142.80" y="28.95" width="1539.70" height="1126.10" fill="none" stroke="#000" stroke-width="4.20" stroke-linejoin="round"/>
<path d="M228.80,1154.05 V1143.05 M314.30,1154.05 V1131.65 M399.81,1154.05 V1143.05 M485.32,1154.05 V1131.65 M570.83,1154.05 V1143.05 M656.33,1154.05 V1131.65 M741.84,1154.05 V1143.05 M827.35,1154.05 V1131.65 M912.85,1154.05 V1143.05 M998.36,1154.05 V1131.65 M1083.87,1154.05 V1143.05 M1169.37,1154.05 V1131.65 M1254.88,1154.05 V1143.05 M1340.39,1154.05 V1131.65 M1425.89,1154.05 V1143.05 M1511.40,1154.05 V1131.65 M1596.91,1154.05 V1143.05" fill="none" stroke="#000" stroke-width="4.30" stroke-linecap="round"/>
<text x="143.29" y="1234.8" font-size="72" text-anchor="middle">30</text>
<text x="314.30" y="1234.8" font-size="72" text-anchor="middle">40</text>
<text x="485.32" y="1234.8" font-size="72" text-anchor="middle">50</text>
<text x="656.33" y="1234.8" font-size="72" text-anchor="middle">60</text>
<text x="827.35" y="1234.8" font-size="72" text-anchor="middle">70</text>
<text x="998.36" y="1234.8" font-size="72" text-anchor="middle">80</text>
<text x="1169.37" y="1234.8" font-size="72" text-anchor="middle">90</text>
<text x="1340.39" y="1234.8" font-size="72" text-anchor="middle">100</text>
<text x="1511.40" y="1234.8" font-size="72" text-anchor="middle">110</text>
<text x="1682.42" y="1234.8" font-size="72" text-anchor="middle">120</text>
<text x="912.1" y="1359.6" font-size="78" letter-spacing="0.45" text-anchor="middle">2θ / °</text>
<text transform="translate(77.0,651.7) rotate(-90)" font-size="78" letter-spacing="-0.3" text-anchor="middle">Intensity</text>
<path d="M1263.5,132.4 H1400" stroke="#ff0000" stroke-width="4.70" stroke-linecap="round" fill="none"/>
<text x="1415.3" y="153.4" font-size="73" letter-spacing="-0.6">650 <tspan font-size="44" dx="1" dy="-35.6">o</tspan><tspan dx="0.6" dy="35.6">C</tspan></text>
<path d="M1263.5,231.1 H1400" stroke="#0000ff" stroke-width="4.70" stroke-linecap="round" fill="none"/>
<text x="1415.3" y="252.1" font-size="73" letter-spacing="-0.6">700 <tspan font-size="44" dx="1" dy="-35.6">o</tspan><tspan dx="0.6" dy="35.6">C</tspan></text>
<path d="M1263.5,330.0 H1400" stroke="#00ff00" stroke-width="4.70" stroke-linecap="round" fill="none"/>
<text x="1415.3" y="351.0" font-size="73" letter-spacing="-0.6">720 <tspan font-size="44" dx="1" dy="-35.6">o</tspan><tspan dx="0.6" dy="35.6">C</tspan></text>
</svg></body></html>
